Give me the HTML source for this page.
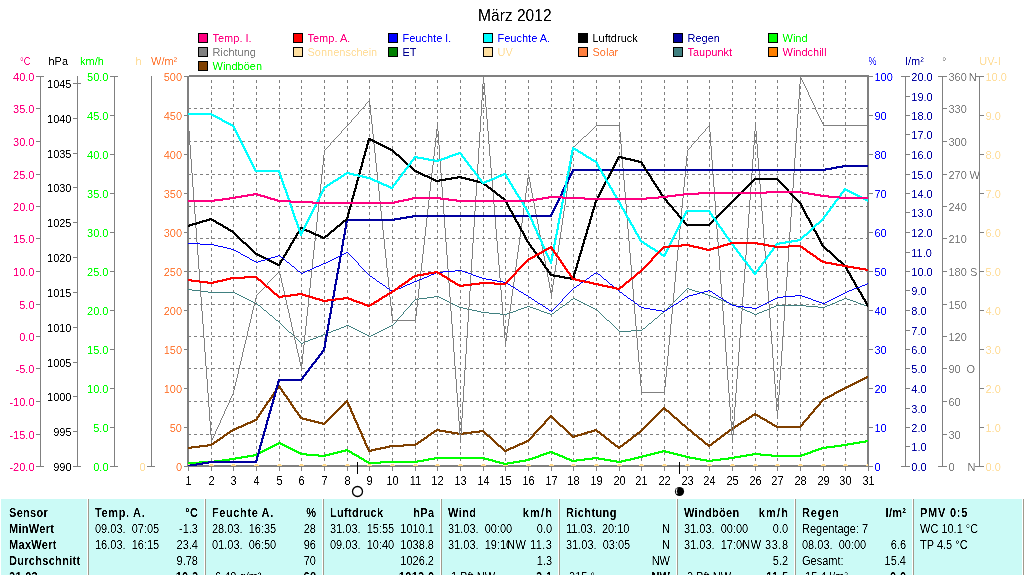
<!DOCTYPE html>
<html><head><meta charset="utf-8"><title>März 2012</title>
<style>
html,body{margin:0;padding:0;background:#fff}
body{width:1024px;height:575px;overflow:hidden;position:relative;font-family:"Liberation Sans",sans-serif;font-size:11px;color:#000}
.c{position:absolute;white-space:nowrap;line-height:13px;height:13px;font-size:11px;transform:scaleY(1.125);transform-origin:0 10.3px}
.s{position:absolute;top:499px;width:1px;height:76px}
</style></head><body>
<div id="wrap" style="position:absolute;left:0;top:0;width:1024px;height:575px;overflow:hidden;will-change:transform">
<svg width="1024" height="499" viewBox="0 0 1024 499" style="position:absolute;left:0;top:0" font-family="Liberation Sans, sans-serif" font-size="11">
<defs><filter id="sh" filterUnits="userSpaceOnUse" x="0" y="0" width="1024" height="575" color-interpolation-filters="sRGB"><feComponentTransfer><feFuncA type="table" tableValues="0 0 0.5 1 1"/></feComponentTransfer></filter></defs>
<g shape-rendering="crispEdges" stroke="none">
<rect x="198" y="33" width="10" height="10" fill="#000"/><rect x="199" y="34" width="8" height="8" fill="#ff0080"/>
<rect x="293" y="33" width="10" height="10" fill="#000"/><rect x="294" y="34" width="8" height="8" fill="#ff0000"/>
<rect x="388" y="33" width="10" height="10" fill="#000"/><rect x="389" y="34" width="8" height="8" fill="#0000ff"/>
<rect x="483" y="33" width="10" height="10" fill="#000"/><rect x="484" y="34" width="8" height="8" fill="#00ffff"/>
<rect x="578" y="33" width="10" height="10" fill="#000"/><rect x="579" y="34" width="8" height="8" fill="#000000"/>
<rect x="673" y="33" width="10" height="10" fill="#000"/><rect x="674" y="34" width="8" height="8" fill="#0000a0"/>
<rect x="768" y="33" width="10" height="10" fill="#000"/><rect x="769" y="34" width="8" height="8" fill="#00ff00"/>
<rect x="198" y="47" width="10" height="10" fill="#000"/><rect x="199" y="48" width="8" height="8" fill="#808080"/>
<rect x="293" y="47" width="10" height="10" fill="#000"/><rect x="294" y="48" width="8" height="8" fill="#ffe0a0"/>
<rect x="388" y="47" width="10" height="10" fill="#000"/><rect x="389" y="48" width="8" height="8" fill="#008000"/>
<rect x="483" y="47" width="10" height="10" fill="#000"/><rect x="484" y="48" width="8" height="8" fill="#ffe0a0"/>
<rect x="578" y="47" width="10" height="10" fill="#000"/><rect x="579" y="48" width="8" height="8" fill="#ff8040"/>
<rect x="673" y="47" width="10" height="10" fill="#000"/><rect x="674" y="48" width="8" height="8" fill="#408080"/>
<rect x="768" y="47" width="10" height="10" fill="#000"/><rect x="769" y="48" width="8" height="8" fill="#ff8000"/>
<rect x="198" y="61" width="10" height="10" fill="#000"/><rect x="199" y="62" width="8" height="8" fill="#804000"/>
<g fill="none" stroke="#808080" stroke-width="1" stroke-dasharray="3 3">
<path d="M211.5 80V465"/>
<path d="M233.5 80V465"/>
<path d="M256.5 80V465"/>
<path d="M279.5 80V465"/>
<path d="M301.5 80V465"/>
<path d="M324.5 80V465"/>
<path d="M347.5 80V465"/>
<path d="M369.5 80V465"/>
<path d="M392.5 80V465"/>
<path d="M415.5 80V465"/>
<path d="M437.5 80V465"/>
<path d="M460.5 80V465"/>
<path d="M483.5 80V465"/>
<path d="M505.5 80V465"/>
<path d="M528.5 80V465"/>
<path d="M551.5 80V465"/>
<path d="M573.5 80V465"/>
<path d="M596.5 80V465"/>
<path d="M619.5 80V465"/>
<path d="M641.5 80V465"/>
<path d="M664.5 80V465"/>
<path d="M687.5 80V465"/>
<path d="M709.5 80V465"/>
<path d="M732.5 80V465"/>
<path d="M755.5 80V465"/>
<path d="M777.5 80V465"/>
<path d="M800.5 80V465"/>
<path d="M823.5 80V465"/>
<path d="M845.5 80V465"/>
<path d="M188 108.5H867"/>
<path d="M188 141.5H867"/>
<path d="M188 174.5H867"/>
<path d="M188 206.5H867"/>
<path d="M188 238.5H867"/>
<path d="M188 271.5H867"/>
<path d="M188 304.5H867"/>
<path d="M188 336.5H867"/>
<path d="M188 368.5H867"/>
<path d="M188 401.5H867"/>
<path d="M188 434.5H867"/>
</g>
<g fill="#808080">
<rect x="187" y="465" width="682" height="2"/><rect x="189" y="75" width="680" height="2"/><rect x="187" y="76" width="2" height="391"/><rect x="867" y="75" width="2" height="392"/>
<rect x="188" y="467" width="1" height="4"/>
<rect x="211" y="467" width="1" height="4"/>
<rect x="233" y="467" width="1" height="4"/>
<rect x="256" y="467" width="1" height="4"/>
<rect x="279" y="467" width="1" height="4"/>
<rect x="301" y="467" width="1" height="4"/>
<rect x="324" y="467" width="1" height="4"/>
<rect x="347" y="467" width="1" height="4"/>
<rect x="369" y="467" width="1" height="4"/>
<rect x="392" y="467" width="1" height="4"/>
<rect x="415" y="467" width="1" height="4"/>
<rect x="437" y="467" width="1" height="4"/>
<rect x="460" y="467" width="1" height="4"/>
<rect x="483" y="467" width="1" height="4"/>
<rect x="505" y="467" width="1" height="4"/>
<rect x="528" y="467" width="1" height="4"/>
<rect x="551" y="467" width="1" height="4"/>
<rect x="573" y="467" width="1" height="4"/>
<rect x="596" y="467" width="1" height="4"/>
<rect x="619" y="467" width="1" height="4"/>
<rect x="641" y="467" width="1" height="4"/>
<rect x="664" y="467" width="1" height="4"/>
<rect x="687" y="467" width="1" height="4"/>
<rect x="709" y="467" width="1" height="4"/>
<rect x="732" y="467" width="1" height="4"/>
<rect x="755" y="467" width="1" height="4"/>
<rect x="777" y="467" width="1" height="4"/>
<rect x="800" y="467" width="1" height="4"/>
<rect x="823" y="467" width="1" height="4"/>
<rect x="845" y="467" width="1" height="4"/>
<rect x="868" y="467" width="1" height="4"/>
</g>
<path d="M866 376h2v1h-2zM864 377h4v1h-4zM862 378h5v1h-5zM860 379h5v1h-5zM858 380h5v1h-5zM856 381h5v1h-5zM854 382h5v1h-5zM852 383h5v1h-5zM850 384h5v1h-5zM278 385h2v1h-2zM848 385h5v1h-5zM846 386h5v1h-5zM277 386h4v2h-4zM844 387h5v1h-5zM276 388h6v1h-6zM842 388h5v1h-5zM275 389h3v1h-3zM280 389h3v1h-3zM840 389h5v1h-5zM275 390h2v1h-2zM281 390h2v1h-2zM838 390h5v1h-5zM274 391h3v1h-3zM281 391h3v1h-3zM836 391h5v1h-5zM273 392h3v1h-3zM282 392h3v1h-3zM834 392h5v1h-5zM273 393h2v1h-2zM283 393h2v1h-2zM833 393h4v1h-4zM272 394h3v1h-3zM283 394h3v1h-3zM831 394h4v1h-4zM271 395h3v1h-3zM284 395h3v1h-3zM829 395h5v1h-5zM271 396h2v1h-2zM285 396h3v1h-3zM827 396h5v1h-5zM270 397h3v1h-3zM286 397h2v1h-2zM825 397h5v1h-5zM269 398h3v1h-3zM286 398h3v1h-3zM823 398h5v1h-5zM269 399h2v1h-2zM287 399h3v1h-3zM822 399h4v1h-4zM268 400h3v1h-3zM288 400h2v1h-2zM346 400h2v1h-2zM821 400h3v1h-3zM267 401h3v1h-3zM288 401h3v1h-3zM345 401h3v1h-3zM820 401h3v1h-3zM266 402h3v1h-3zM289 402h3v1h-3zM344 402h5v1h-5zM819 402h3v1h-3zM266 403h2v1h-2zM290 403h2v1h-2zM343 403h3v1h-3zM347 403h2v1h-2zM819 403h2v1h-2zM265 404h3v1h-3zM290 404h3v1h-3zM342 404h3v1h-3zM347 404h3v1h-3zM818 404h3v1h-3zM264 405h3v1h-3zM291 405h3v1h-3zM341 405h3v1h-3zM348 405h2v1h-2zM817 405h3v1h-3zM264 406h2v1h-2zM292 406h2v1h-2zM340 406h3v1h-3zM348 406h3v1h-3zM816 406h3v1h-3zM263 407h3v1h-3zM292 407h3v1h-3zM339 407h3v1h-3zM349 407h2v1h-2zM663 407h2v1h-2zM815 407h3v1h-3zM262 408h3v1h-3zM293 408h3v1h-3zM338 408h3v1h-3zM349 408h3v1h-3zM662 408h4v1h-4zM814 408h3v1h-3zM262 409h2v1h-2zM294 409h2v1h-2zM337 409h3v1h-3zM661 409h6v1h-6zM813 409h3v1h-3zM261 410h3v1h-3zM294 410h3v1h-3zM336 410h3v1h-3zM350 409h2v2h-2zM660 410h3v1h-3zM665 410h4v1h-4zM813 410h2v1h-2zM260 411h3v1h-3zM295 411h3v1h-3zM335 411h3v1h-3zM350 411h3v1h-3zM659 411h3v1h-3zM666 411h4v1h-4zM812 411h3v1h-3zM260 412h2v1h-2zM296 412h3v1h-3zM334 412h3v1h-3zM351 412h2v1h-2zM658 412h3v1h-3zM668 412h3v1h-3zM811 412h3v1h-3zM259 413h3v1h-3zM297 413h2v1h-2zM333 413h3v1h-3zM351 413h3v1h-3zM657 413h3v1h-3zM669 413h3v1h-3zM754 413h2v1h-2zM810 413h3v1h-3zM258 414h3v1h-3zM297 414h3v1h-3zM332 414h3v1h-3zM352 414h2v1h-2zM656 414h3v1h-3zM670 414h3v1h-3zM752 414h6v1h-6zM809 414h3v1h-3zM258 415h2v1h-2zM298 415h3v1h-3zM331 415h3v1h-3zM352 415h3v1h-3zM550 415h2v1h-2zM655 415h3v1h-3zM671 415h3v1h-3zM751 415h9v1h-9zM808 415h3v1h-3zM257 416h3v1h-3zM299 416h2v1h-2zM330 416h3v1h-3zM549 416h4v1h-4zM654 416h3v1h-3zM672 416h3v1h-3zM749 416h4v1h-4zM757 416h4v1h-4zM808 416h2v1h-2zM256 417h3v1h-3zM299 417h4v1h-4zM329 417h3v1h-3zM353 416h2v2h-2zM548 417h6v1h-6zM653 417h3v1h-3zM673 417h4v1h-4zM748 417h4v1h-4zM759 417h4v1h-4zM807 417h3v1h-3zM256 418h2v1h-2zM300 418h7v1h-7zM328 418h3v1h-3zM353 418h3v1h-3zM547 418h3v1h-3zM552 418h3v1h-3zM652 418h3v1h-3zM674 418h4v1h-4zM746 418h4v1h-4zM760 418h5v1h-5zM806 418h3v1h-3zM254 419h4v1h-4zM302 419h9v1h-9zM327 419h3v1h-3zM354 419h2v1h-2zM546 419h3v1h-3zM553 419h3v1h-3zM651 419h3v1h-3zM676 419h3v1h-3zM745 419h4v1h-4zM762 419h5v1h-5zM805 419h3v1h-3zM252 420h5v1h-5zM306 420h9v1h-9zM326 420h3v1h-3zM354 420h3v1h-3zM545 420h3v1h-3zM554 420h3v1h-3zM650 420h3v1h-3zM677 420h3v1h-3zM743 420h4v1h-4zM764 420h4v1h-4zM804 420h3v1h-3zM250 421h5v1h-5zM310 421h9v1h-9zM325 421h3v1h-3zM355 421h2v1h-2zM544 421h3v1h-3zM555 421h3v1h-3zM649 421h3v1h-3zM678 421h3v1h-3zM741 421h5v1h-5zM766 421h4v1h-4zM803 421h3v1h-3zM247 422h6v1h-6zM314 422h9v1h-9zM324 422h3v1h-3zM355 422h3v1h-3zM544 422h2v1h-2zM556 422h3v1h-3zM648 422h3v1h-3zM679 422h3v1h-3zM740 422h4v1h-4zM767 422h5v1h-5zM802 422h3v1h-3zM245 423h6v1h-6zM318 423h8v1h-8zM356 423h2v1h-2zM543 423h3v1h-3zM557 423h3v1h-3zM647 423h3v1h-3zM680 423h3v1h-3zM738 423h4v1h-4zM769 423h4v1h-4zM802 423h2v1h-2zM243 424h5v1h-5zM322 424h3v1h-3zM356 424h3v1h-3zM542 424h3v1h-3zM558 424h3v1h-3zM646 424h3v1h-3zM681 424h4v1h-4zM737 424h4v1h-4zM771 424h4v1h-4zM801 424h3v1h-3zM241 425h5v1h-5zM541 425h3v1h-3zM559 425h4v1h-4zM645 425h3v1h-3zM682 425h4v1h-4zM735 425h4v1h-4zM772 425h5v1h-5zM800 425h3v1h-3zM238 426h6v1h-6zM357 425h2v2h-2zM540 426h3v1h-3zM560 426h4v1h-4zM644 426h3v1h-3zM684 426h3v1h-3zM734 426h4v1h-4zM774 426h28v1h-28zM236 427h6v1h-6zM357 427h3v1h-3zM539 427h3v1h-3zM562 427h3v1h-3zM643 427h3v1h-3zM685 427h3v1h-3zM732 427h4v1h-4zM776 427h25v1h-25zM234 428h5v1h-5zM358 428h2v1h-2zM538 428h3v1h-3zM563 428h3v1h-3zM642 428h3v1h-3zM686 428h3v1h-3zM731 428h4v1h-4zM232 429h5v1h-5zM358 429h3v1h-3zM436 429h4v1h-4zM537 429h3v1h-3zM564 429h3v1h-3zM594 429h3v1h-3zM641 429h3v1h-3zM687 429h4v1h-4zM729 429h4v1h-4zM230 430h5v1h-5zM359 430h2v1h-2zM434 430h12v1h-12zM479 430h5v1h-5zM536 430h3v1h-3zM565 430h3v1h-3zM591 430h7v1h-7zM640 430h3v1h-3zM688 430h4v1h-4zM728 430h4v1h-4zM229 431h4v1h-4zM359 431h3v1h-3zM433 431h4v1h-4zM439 431h13v1h-13zM471 431h14v1h-14zM535 431h3v1h-3zM566 431h3v1h-3zM587 431h8v1h-8zM596 431h4v1h-4zM639 431h3v1h-3zM690 431h3v1h-3zM727 431h3v1h-3zM227 432h4v1h-4zM360 432h2v1h-2zM431 432h4v1h-4zM445 432h13v1h-13zM463 432h17v1h-17zM483 432h3v1h-3zM534 432h3v1h-3zM567 432h3v1h-3zM584 432h8v1h-8zM597 432h4v1h-4zM637 432h4v1h-4zM691 432h3v1h-3zM725 432h4v1h-4zM226 433h4v1h-4zM360 433h3v1h-3zM430 433h4v1h-4zM451 433h21v1h-21zM484 433h3v1h-3zM533 433h3v1h-3zM568 433h3v1h-3zM581 433h7v1h-7zM599 433h3v1h-3zM636 433h4v1h-4zM692 433h3v1h-3zM724 433h4v1h-4zM224 434h4v1h-4zM428 434h4v1h-4zM457 434h7v1h-7zM485 434h3v1h-3zM533 434h2v1h-2zM569 434h3v1h-3zM577 434h8v1h-8zM600 434h4v1h-4zM635 434h3v1h-3zM693 434h4v1h-4zM723 434h3v1h-3zM223 435h4v1h-4zM361 434h2v2h-2zM427 435h4v1h-4zM486 435h4v1h-4zM532 435h3v1h-3zM570 435h3v1h-3zM574 435h8v1h-8zM601 435h4v1h-4zM633 435h4v1h-4zM694 435h4v1h-4zM721 435h4v1h-4zM222 436h3v1h-3zM361 436h3v1h-3zM426 436h3v1h-3zM487 436h4v1h-4zM531 436h3v1h-3zM571 436h7v1h-7zM603 436h3v1h-3zM632 436h4v1h-4zM696 436h3v1h-3zM720 436h4v1h-4zM220 437h4v1h-4zM362 437h2v1h-2zM424 437h4v1h-4zM489 437h3v1h-3zM530 437h3v1h-3zM572 437h3v1h-3zM604 437h3v1h-3zM631 437h3v1h-3zM697 437h3v1h-3zM719 437h3v1h-3zM219 438h4v1h-4zM362 438h3v1h-3zM423 438h4v1h-4zM490 438h3v1h-3zM529 438h3v1h-3zM605 438h4v1h-4zM630 438h3v1h-3zM698 438h4v1h-4zM717 438h4v1h-4zM217 439h4v1h-4zM363 439h2v1h-2zM421 439h4v1h-4zM491 439h3v1h-3zM528 439h3v1h-3zM606 439h4v1h-4zM628 439h4v1h-4zM699 439h4v1h-4zM716 439h4v1h-4zM216 440h4v1h-4zM363 440h3v1h-3zM420 440h4v1h-4zM492 440h3v1h-3zM526 440h4v1h-4zM608 440h3v1h-3zM627 440h4v1h-4zM701 440h3v1h-3zM715 440h3v1h-3zM214 441h4v1h-4zM418 441h4v1h-4zM493 441h3v1h-3zM524 441h5v1h-5zM609 441h3v1h-3zM626 441h3v1h-3zM702 441h3v1h-3zM713 441h4v1h-4zM213 442h4v1h-4zM364 441h2v2h-2zM417 442h4v1h-4zM494 442h3v1h-3zM522 442h5v1h-5zM610 442h4v1h-4zM624 442h4v1h-4zM703 442h3v1h-3zM712 442h4v1h-4zM211 443h4v1h-4zM364 443h3v1h-3zM415 443h4v1h-4zM495 443h3v1h-3zM519 443h6v1h-6zM611 443h4v1h-4zM623 443h4v1h-4zM704 443h4v1h-4zM711 443h3v1h-3zM207 444h7v1h-7zM365 444h2v1h-2zM403 444h15v1h-15zM496 444h3v1h-3zM517 444h6v1h-6zM613 444h3v1h-3zM622 444h3v1h-3zM705 444h8v1h-8zM199 445h13v1h-13zM365 445h3v1h-3zM389 445h27v1h-27zM497 445h4v1h-4zM515 445h5v1h-5zM614 445h4v1h-4zM620 445h4v1h-4zM707 445h5v1h-5zM191 446h17v1h-17zM366 446h2v1h-2zM385 446h19v1h-19zM498 446h4v1h-4zM513 446h5v1h-5zM615 446h8v1h-8zM708 446h2v1h-2zM188 447h12v1h-12zM366 447h3v1h-3zM380 447h10v1h-10zM500 447h3v1h-3zM510 447h6v1h-6zM617 447h4v1h-4zM188 448h4v1h-4zM367 448h2v1h-2zM375 448h11v1h-11zM501 448h3v1h-3zM508 448h6v1h-6zM618 448h2v1h-2zM367 449h3v1h-3zM371 449h10v1h-10zM502 449h3v1h-3zM506 449h5v1h-5zM368 450h8v1h-8zM503 450h6v1h-6zM368 451h4v1h-4zM504 451h3v1h-3z" fill="#804000"/>
<path d="M687 288h2v1h-2zM188 289h4v1h-4zM686 289h1v1h-1zM689 289h3v1h-3zM192 290h8v1h-8zM685 290h1v1h-1zM692 290h3v1h-3zM200 291h8v1h-8zM684 291h1v1h-1zM695 291h4v1h-4zM208 292h27v1h-27zM683 292h1v1h-1zM699 292h3v1h-3zM235 293h2v1h-2zM682 293h1v1h-1zM702 293h3v1h-3zM237 294h2v1h-2zM681 294h1v1h-1zM705 294h3v1h-3zM239 295h2v1h-2zM680 295h1v1h-1zM708 295h3v1h-3zM241 296h2v1h-2zM434 296h5v1h-5zM679 296h1v1h-1zM711 296h2v1h-2zM243 297h2v1h-2zM427 297h7v1h-7zM439 297h2v1h-2zM678 297h1v1h-1zM713 297h3v1h-3zM245 298h2v1h-2zM419 298h8v1h-8zM441 298h2v1h-2zM573 298h2v1h-2zM677 298h1v1h-1zM716 298h2v1h-2zM844 298h3v1h-3zM247 299h2v1h-2zM415 299h4v1h-4zM443 299h2v1h-2zM571 299h2v1h-2zM575 299h2v1h-2zM676 299h1v1h-1zM718 299h3v1h-3zM842 299h2v1h-2zM847 299h3v1h-3zM249 300h2v1h-2zM414 300h1v1h-1zM445 300h2v1h-2zM570 300h1v1h-1zM577 300h2v1h-2zM675 300h1v1h-1zM721 300h3v1h-3zM839 300h3v1h-3zM850 300h3v1h-3zM251 301h2v1h-2zM413 301h1v1h-1zM447 301h2v1h-2zM569 301h1v1h-1zM579 301h2v1h-2zM674 301h1v1h-1zM724 301h2v1h-2zM837 301h2v1h-2zM853 301h3v1h-3zM253 302h2v1h-2zM412 302h1v1h-1zM449 302h2v1h-2zM567 302h2v1h-2zM581 302h2v1h-2zM673 302h1v1h-1zM726 302h3v1h-3zM835 302h2v1h-2zM856 302h2v1h-2zM255 303h2v1h-2zM451 303h2v1h-2zM566 303h1v1h-1zM583 303h2v1h-2zM672 303h1v1h-1zM729 303h2v1h-2zM832 303h3v1h-3zM858 303h3v1h-3zM257 304h1v1h-1zM411 303h1v2h-1zM453 304h2v1h-2zM565 304h1v1h-1zM585 304h2v1h-2zM671 304h1v1h-1zM731 304h3v1h-3zM830 304h2v1h-2zM861 304h3v1h-3zM258 305h2v1h-2zM410 305h1v1h-1zM455 305h2v1h-2zM563 305h2v1h-2zM587 305h2v1h-2zM670 305h1v1h-1zM734 305h2v1h-2zM776 305h30v1h-30zM827 305h3v1h-3zM864 305h3v1h-3zM260 306h1v1h-1zM409 306h1v1h-1zM457 306h2v1h-2zM527 306h3v1h-3zM562 306h1v1h-1zM589 306h2v1h-2zM669 306h1v1h-1zM736 306h2v1h-2zM774 306h2v1h-2zM806 306h12v1h-12zM825 306h2v1h-2zM867 306h1v1h-1zM261 307h1v1h-1zM408 307h1v1h-1zM459 307h4v1h-4zM524 307h3v1h-3zM530 307h3v1h-3zM560 307h2v1h-2zM591 307h2v1h-2zM668 307h1v1h-1zM738 307h3v1h-3zM771 307h3v1h-3zM818 307h7v1h-7zM262 308h1v1h-1zM407 308h1v1h-1zM463 308h4v1h-4zM521 308h3v1h-3zM533 308h3v1h-3zM559 308h1v1h-1zM593 308h2v1h-2zM667 308h1v1h-1zM741 308h2v1h-2zM769 308h2v1h-2zM263 309h1v1h-1zM406 309h1v1h-1zM467 309h5v1h-5zM518 309h3v1h-3zM536 309h3v1h-3zM558 309h1v1h-1zM595 309h2v1h-2zM666 309h1v1h-1zM743 309h2v1h-2zM767 309h2v1h-2zM264 310h2v1h-2zM405 310h1v1h-1zM472 310h5v1h-5zM516 310h2v1h-2zM539 310h2v1h-2zM556 310h2v1h-2zM597 310h1v1h-1zM665 310h1v1h-1zM745 310h2v1h-2zM764 310h3v1h-3zM266 311h1v1h-1zM404 311h1v1h-1zM477 311h4v1h-4zM513 311h3v1h-3zM541 311h3v1h-3zM555 311h1v1h-1zM598 311h1v1h-1zM664 311h1v1h-1zM747 311h3v1h-3zM762 311h2v1h-2zM267 312h1v1h-1zM481 312h8v1h-8zM510 312h3v1h-3zM544 312h3v1h-3zM554 312h1v1h-1zM599 312h1v1h-1zM663 312h1v1h-1zM750 312h2v1h-2zM759 312h3v1h-3zM268 313h1v1h-1zM403 312h1v2h-1zM489 313h11v1h-11zM507 313h3v1h-3zM547 313h3v1h-3zM552 313h2v1h-2zM600 313h1v1h-1zM661 313h2v1h-2zM752 313h2v1h-2zM757 313h2v1h-2zM269 314h1v1h-1zM402 314h1v1h-1zM500 314h7v1h-7zM550 314h2v1h-2zM601 314h1v1h-1zM660 314h1v1h-1zM754 314h3v1h-3zM270 315h2v1h-2zM401 315h1v1h-1zM602 315h1v1h-1zM659 315h1v1h-1zM272 316h1v1h-1zM400 316h1v1h-1zM603 316h1v1h-1zM658 316h1v1h-1zM273 317h1v1h-1zM399 317h1v1h-1zM604 317h1v1h-1zM657 317h1v1h-1zM274 318h1v1h-1zM398 318h1v1h-1zM605 318h1v1h-1zM655 318h2v1h-2zM275 319h1v1h-1zM397 319h1v1h-1zM606 319h1v1h-1zM654 319h1v1h-1zM276 320h2v1h-2zM607 320h2v1h-2zM653 320h1v1h-1zM278 321h1v1h-1zM396 320h1v2h-1zM609 321h1v1h-1zM652 321h1v1h-1zM279 322h1v1h-1zM395 322h1v1h-1zM610 322h1v1h-1zM651 322h1v1h-1zM280 323h1v1h-1zM394 323h1v1h-1zM611 323h1v1h-1zM649 323h2v1h-2zM281 324h1v1h-1zM393 324h1v1h-1zM612 324h1v1h-1zM648 324h1v1h-1zM282 325h1v1h-1zM346 325h3v1h-3zM391 325h2v1h-2zM613 325h1v1h-1zM647 325h1v1h-1zM283 326h1v1h-1zM344 326h2v1h-2zM349 326h2v1h-2zM389 326h2v1h-2zM614 326h1v1h-1zM646 326h1v1h-1zM284 327h1v1h-1zM341 327h3v1h-3zM351 327h2v1h-2zM387 327h2v1h-2zM615 327h1v1h-1zM645 327h1v1h-1zM285 328h1v1h-1zM339 328h2v1h-2zM353 328h2v1h-2zM385 328h2v1h-2zM616 328h1v1h-1zM643 328h2v1h-2zM286 329h1v1h-1zM336 329h3v1h-3zM355 329h2v1h-2zM383 329h2v1h-2zM617 329h1v1h-1zM642 329h1v1h-1zM287 330h1v1h-1zM333 330h3v1h-3zM357 330h2v1h-2zM381 330h2v1h-2zM618 330h1v1h-1zM631 330h11v1h-11zM288 331h1v1h-1zM331 331h2v1h-2zM359 331h2v1h-2zM379 331h2v1h-2zM619 331h12v1h-12zM289 332h2v1h-2zM328 332h3v1h-3zM361 332h2v1h-2zM377 332h2v1h-2zM291 333h1v1h-1zM326 333h2v1h-2zM363 333h2v1h-2zM375 333h2v1h-2zM292 334h1v1h-1zM323 334h3v1h-3zM365 334h2v1h-2zM373 334h2v1h-2zM293 335h1v1h-1zM321 335h2v1h-2zM367 335h2v1h-2zM371 335h2v1h-2zM294 336h1v1h-1zM318 336h3v1h-3zM369 336h2v1h-2zM295 337h1v1h-1zM316 337h2v1h-2zM296 338h1v1h-1zM313 338h3v1h-3zM297 339h1v1h-1zM310 339h3v1h-3zM298 340h1v1h-1zM308 340h2v1h-2zM299 341h1v1h-1zM305 341h3v1h-3zM300 342h1v1h-1zM303 342h2v1h-2zM301 343h2v1h-2z" fill="#408080"/>
<g fill="#ffd88a">
<rect x="188" y="464" width="2" height="1"/><rect x="188" y="465" width="3" height="1"/>
<rect x="210" y="464" width="3" height="1"/><rect x="209" y="465" width="5" height="1"/>
<rect x="232" y="464" width="3" height="1"/><rect x="231" y="465" width="5" height="1"/>
<rect x="255" y="464" width="3" height="1"/><rect x="254" y="465" width="5" height="1"/>
<rect x="278" y="464" width="3" height="1"/><rect x="277" y="465" width="5" height="1"/>
<rect x="300" y="464" width="3" height="1"/><rect x="299" y="465" width="5" height="1"/>
<rect x="323" y="464" width="3" height="1"/><rect x="322" y="465" width="5" height="1"/>
<rect x="346" y="464" width="3" height="1"/><rect x="345" y="465" width="5" height="1"/>
<rect x="368" y="464" width="3" height="1"/><rect x="367" y="465" width="5" height="1"/>
<rect x="391" y="464" width="3" height="1"/><rect x="390" y="465" width="5" height="1"/>
<rect x="414" y="464" width="3" height="1"/><rect x="413" y="465" width="5" height="1"/>
<rect x="436" y="464" width="3" height="1"/><rect x="435" y="465" width="5" height="1"/>
<rect x="459" y="464" width="3" height="1"/><rect x="458" y="465" width="5" height="1"/>
<rect x="482" y="464" width="3" height="1"/><rect x="481" y="465" width="5" height="1"/>
<rect x="504" y="464" width="3" height="1"/><rect x="503" y="465" width="5" height="1"/>
<rect x="527" y="464" width="3" height="1"/><rect x="526" y="465" width="5" height="1"/>
<rect x="550" y="464" width="3" height="1"/><rect x="549" y="465" width="5" height="1"/>
<rect x="572" y="464" width="3" height="1"/><rect x="571" y="465" width="5" height="1"/>
<rect x="595" y="464" width="3" height="1"/><rect x="594" y="465" width="5" height="1"/>
<rect x="618" y="464" width="3" height="1"/><rect x="617" y="465" width="5" height="1"/>
<rect x="640" y="464" width="3" height="1"/><rect x="639" y="465" width="5" height="1"/>
<rect x="663" y="464" width="3" height="1"/><rect x="662" y="465" width="5" height="1"/>
<rect x="686" y="464" width="3" height="1"/><rect x="685" y="465" width="5" height="1"/>
<rect x="708" y="464" width="3" height="1"/><rect x="707" y="465" width="5" height="1"/>
<rect x="731" y="464" width="3" height="1"/><rect x="730" y="465" width="5" height="1"/>
<rect x="754" y="464" width="3" height="1"/><rect x="753" y="465" width="5" height="1"/>
<rect x="776" y="464" width="3" height="1"/><rect x="775" y="465" width="5" height="1"/>
<rect x="799" y="464" width="3" height="1"/><rect x="798" y="465" width="5" height="1"/>
<rect x="822" y="464" width="3" height="1"/><rect x="821" y="465" width="5" height="1"/>
<rect x="844" y="464" width="3" height="1"/><rect x="843" y="465" width="5" height="1"/>
<rect x="867" y="464" width="1" height="1"/><rect x="866" y="465" width="2" height="1"/>
</g>
<path d="M800 76h1v2h-1zM800 78h2v2h-2zM802 80h1v2h-1zM483 76h1v7h-1zM483 83h2v1h-2zM800 80h1v4h-1zM803 82h1v2h-1zM804 84h1v2h-1zM805 86h1v2h-1zM806 88h1v2h-1zM807 90h1v2h-1zM484 84h1v11h-1zM808 92h1v3h-1zM809 95h1v2h-1zM799 84h1v15h-1zM810 97h1v2h-1zM482 84h1v16h-1zM369 100h1v1h-1zM811 99h1v2h-1zM368 101h2v1h-2zM367 102h1v1h-1zM812 101h1v2h-1zM366 103h1v1h-1zM369 102h1v3h-1zM813 103h1v2h-1zM365 104h1v2h-1zM364 106h1v1h-1zM485 95h1v12h-1zM814 105h1v2h-1zM363 107h1v1h-1zM362 108h1v1h-1zM361 109h1v1h-1zM815 107h1v3h-1zM360 110h1v1h-1zM359 111h1v1h-1zM816 110h1v2h-1zM358 112h1v2h-1zM798 99h1v15h-1zM817 112h1v2h-1zM357 114h1v1h-1zM370 105h1v10h-1zM356 115h1v1h-1zM481 100h1v16h-1zM818 114h1v2h-1zM355 116h1v1h-1zM354 117h1v1h-1zM819 116h1v2h-1zM353 118h1v1h-1zM486 107h1v12h-1zM352 119h1v1h-1zM820 118h1v2h-1zM351 120h1v2h-1zM821 120h1v2h-1zM350 122h1v1h-1zM349 123h1v1h-1zM371 115h1v9h-1zM822 122h1v2h-1zM348 124h1v1h-1zM823 124h1v1h-1zM347 125h1v1h-1zM596 125h24v1h-24zM709 125h1v1h-1zM823 125h45v1h-45zM346 126h1v1h-1zM595 126h1v1h-1zM708 126h2v1h-2zM345 127h1v1h-1zM594 127h1v1h-1zM707 127h1v1h-1zM797 114h1v14h-1zM344 128h1v1h-1zM437 124h1v5h-1zM593 128h1v1h-1zM706 128h1v1h-1zM343 129h1v1h-1zM592 129h1v1h-1zM188 124h1v7h-1zM342 130h1v1h-1zM436 129h2v2h-2zM487 119h1v12h-1zM591 130h1v1h-1zM705 129h1v2h-1zM755 124h1v7h-1zM480 116h1v16h-1zM590 131h1v1h-1zM619 126h1v6h-1zM704 131h1v1h-1zM709 127h1v5h-1zM341 131h1v2h-1zM589 132h1v1h-1zM703 132h1v1h-1zM340 133h1v1h-1zM372 124h1v10h-1zM588 133h1v1h-1zM702 133h1v1h-1zM339 134h1v1h-1zM587 134h1v1h-1zM701 134h1v1h-1zM338 135h1v1h-1zM586 135h1v1h-1zM700 135h1v1h-1zM337 136h1v1h-1zM584 136h2v1h-2zM699 136h1v1h-1zM336 137h1v1h-1zM436 131h1v7h-1zM583 137h1v1h-1zM335 138h1v1h-1zM582 138h1v1h-1zM698 137h1v2h-1zM334 139h1v1h-1zM581 139h1v1h-1zM697 139h1v1h-1zM333 140h1v1h-1zM580 140h1v1h-1zM696 140h1v1h-1zM332 141h1v1h-1zM579 141h1v1h-1zM695 141h1v1h-1zM331 142h1v1h-1zM578 142h1v1h-1zM694 142h1v1h-1zM796 128h1v15h-1zM373 134h1v10h-1zM488 131h1v13h-1zM577 143h1v1h-1zM620 132h1v12h-1zM693 143h1v1h-1zM756 131h1v13h-1zM189 131h1v14h-1zM330 143h1v2h-1zM438 131h1v14h-1zM576 144h1v1h-1zM692 144h1v1h-1zM754 131h1v14h-1zM329 145h1v1h-1zM575 145h1v1h-1zM710 132h1v14h-1zM328 146h1v1h-1zM435 138h1v9h-1zM574 146h1v1h-1zM691 145h1v2h-1zM327 147h1v1h-1zM479 132h1v16h-1zM690 147h1v1h-1zM326 148h1v1h-1zM689 148h1v1h-1zM325 149h1v1h-1zM688 149h1v1h-1zM573 147h1v4h-1zM374 144h1v9h-1zM324 150h1v5h-1zM434 147h1v9h-1zM489 144h1v12h-1zM621 144h1v12h-1zM687 150h1v6h-1zM572 151h1v7h-1zM757 144h1v14h-1zM795 143h1v15h-1zM190 145h1v14h-1zM439 145h1v14h-1zM753 145h1v14h-1zM711 146h1v14h-1zM375 153h1v10h-1zM478 148h1v16h-1zM571 158h1v6h-1zM323 155h1v10h-1zM433 156h1v9h-1zM686 156h1v10h-1zM490 156h1v12h-1zM622 156h1v12h-1zM570 164h1v7h-1zM758 158h1v13h-1zM376 163h1v9h-1zM191 159h1v14h-1zM432 165h1v8h-1zM440 159h1v14h-1zM752 159h1v14h-1zM794 158h1v15h-1zM322 165h1v9h-1zM712 160h1v14h-1zM528 174h1v3h-1zM685 166h1v11h-1zM528 177h2v1h-2zM569 171h1v7h-1zM477 164h1v16h-1zM491 168h1v12h-1zM623 168h1v12h-1zM377 172h1v10h-1zM431 173h1v9h-1zM529 178h1v4h-1zM321 174h1v10h-1zM568 178h1v6h-1zM759 171h1v13h-1zM527 178h1v8h-1zM192 173h1v14h-1zM441 173h1v14h-1zM684 177h1v10h-1zM713 174h1v13h-1zM751 173h1v14h-1zM530 182h1v6h-1zM793 173h1v15h-1zM378 182h1v9h-1zM430 182h1v9h-1zM567 184h1v7h-1zM492 180h1v12h-1zM624 180h1v12h-1zM320 184h1v9h-1zM526 186h1v7h-1zM531 188h1v5h-1zM476 180h1v16h-1zM532 193h1v5h-1zM566 191h1v7h-1zM683 187h1v11h-1zM760 184h1v14h-1zM193 187h1v13h-1zM429 191h1v9h-1zM442 187h1v13h-1zM525 193h1v7h-1zM750 187h1v13h-1zM379 191h1v10h-1zM714 187h1v14h-1zM319 193h1v10h-1zM533 198h1v5h-1zM792 188h1v15h-1zM493 192h1v12h-1zM625 192h1v12h-1zM565 198h1v7h-1zM524 200h1v8h-1zM682 198h1v10h-1zM428 200h1v9h-1zM534 203h1v6h-1zM380 201h1v10h-1zM475 196h1v15h-1zM564 205h1v6h-1zM761 198h1v13h-1zM318 203h1v9h-1zM194 200h1v14h-1zM443 200h1v14h-1zM535 209h1v5h-1zM749 200h1v14h-1zM523 208h1v7h-1zM715 201h1v14h-1zM494 204h1v13h-1zM626 204h1v13h-1zM791 203h1v14h-1zM427 209h1v9h-1zM563 211h1v7h-1zM536 214h1v5h-1zM681 208h1v11h-1zM381 211h1v9h-1zM317 212h1v10h-1zM522 215h1v8h-1zM537 219h1v5h-1zM762 211h1v13h-1zM562 218h1v7h-1zM426 218h1v9h-1zM474 211h1v16h-1zM195 214h1v14h-1zM444 214h1v14h-1zM748 214h1v14h-1zM495 217h1v12h-1zM627 217h1v12h-1zM680 219h1v10h-1zM716 215h1v14h-1zM382 220h1v10h-1zM521 223h1v7h-1zM538 224h1v6h-1zM316 222h1v9h-1zM561 225h1v7h-1zM790 217h1v15h-1zM539 230h1v5h-1zM425 227h1v9h-1zM520 230h1v7h-1zM560 232h1v6h-1zM763 224h1v14h-1zM383 230h1v9h-1zM540 235h1v5h-1zM679 229h1v11h-1zM315 231h1v10h-1zM496 229h1v12h-1zM628 229h1v12h-1zM196 228h1v14h-1zM445 228h1v14h-1zM717 229h1v13h-1zM747 228h1v14h-1zM473 227h1v16h-1zM424 236h1v9h-1zM519 237h1v8h-1zM559 238h1v7h-1zM541 240h1v6h-1zM789 232h1v15h-1zM384 239h1v10h-1zM314 241h1v9h-1zM678 240h1v10h-1zM542 246h1v5h-1zM764 238h1v13h-1zM518 245h1v7h-1zM558 245h1v7h-1zM497 241h1v12h-1zM629 241h1v12h-1zM423 245h1v9h-1zM197 242h1v13h-1zM446 242h1v13h-1zM746 242h1v13h-1zM543 251h1v5h-1zM718 242h1v14h-1zM385 249h1v9h-1zM557 252h1v6h-1zM313 250h1v9h-1zM472 243h1v16h-1zM517 252h1v7h-1zM544 256h1v5h-1zM677 250h1v11h-1zM788 247h1v15h-1zM422 254h1v9h-1zM765 251h1v13h-1zM498 253h1v12h-1zM556 258h1v7h-1zM630 253h1v12h-1zM516 259h1v8h-1zM545 261h1v6h-1zM386 258h1v10h-1zM198 255h1v14h-1zM312 259h1v10h-1zM447 255h1v14h-1zM745 255h1v14h-1zM719 256h1v14h-1zM421 263h1v8h-1zM676 261h1v10h-1zM279 271h1v1h-1zM546 267h1v5h-1zM555 265h1v7h-1zM278 272h2v1h-2zM277 273h1v1h-1zM279 273h1v1h-1zM515 267h1v7h-1zM276 274h1v1h-1zM471 259h1v16h-1zM275 275h1v1h-1zM274 276h1v1h-1zM387 268h1v9h-1zM547 272h1v5h-1zM631 265h1v12h-1zM787 262h1v15h-1zM273 277h1v1h-1zM280 274h1v4h-1zM311 269h1v9h-1zM499 265h1v13h-1zM766 264h1v14h-1zM272 278h1v1h-1zM554 272h1v7h-1zM271 279h1v1h-1zM420 271h1v9h-1zM270 280h1v1h-1zM269 281h1v1h-1zM514 274h1v8h-1zM548 277h1v5h-1zM675 271h1v11h-1zM199 269h1v14h-1zM268 282h1v1h-1zM281 278h1v5h-1zM448 269h1v14h-1zM744 269h1v14h-1zM720 270h1v14h-1zM267 283h1v2h-1zM553 279h1v6h-1zM266 285h1v1h-1zM265 286h1v1h-1zM282 283h1v4h-1zM388 277h1v10h-1zM264 287h1v1h-1zM310 278h1v10h-1zM549 282h1v6h-1zM263 288h1v1h-1zM419 280h1v9h-1zM513 282h1v7h-1zM632 277h1v12h-1zM262 289h1v1h-1zM500 278h1v12h-1zM261 290h1v1h-1zM283 287h1v4h-1zM470 275h1v16h-1zM767 278h1v13h-1zM786 277h1v14h-1zM260 291h1v1h-1zM550 288h1v4h-1zM552 285h1v7h-1zM259 292h1v1h-1zM550 292h2v1h-2zM674 282h1v11h-1zM258 293h1v1h-1zM257 294h1v1h-1zM284 291h1v5h-1zM512 289h1v7h-1zM551 293h1v3h-1zM200 283h1v14h-1zM309 288h1v9h-1zM389 287h1v10h-1zM449 283h1v14h-1zM721 284h1v13h-1zM743 283h1v14h-1zM256 295h1v3h-1zM418 289h1v9h-1zM285 296h1v4h-1zM633 289h1v12h-1zM255 298h1v4h-1zM501 290h1v12h-1zM673 293h1v10h-1zM511 296h1v8h-1zM768 291h1v13h-1zM286 300h1v5h-1zM254 302h1v4h-1zM390 297h1v9h-1zM785 291h1v15h-1zM308 297h1v10h-1zM417 298h1v9h-1zM469 291h1v16h-1zM287 305h1v4h-1zM253 306h1v4h-1zM201 297h1v14h-1zM450 297h1v14h-1zM510 304h1v7h-1zM722 297h1v14h-1zM742 297h1v14h-1zM288 309h1v4h-1zM252 310h1v4h-1zM502 302h1v12h-1zM634 301h1v13h-1zM672 303h1v11h-1zM307 307h1v9h-1zM391 306h1v10h-1zM416 307h1v9h-1zM289 313h1v5h-1zM769 304h1v14h-1zM251 314h1v5h-1zM509 311h1v8h-1zM392 316h1v4h-1zM415 316h1v4h-1zM392 320h24v1h-24zM784 306h1v15h-1zM290 318h1v4h-1zM468 307h1v15h-1zM250 319h1v4h-1zM202 311h1v13h-1zM451 311h1v13h-1zM671 314h1v10h-1zM741 311h1v13h-1zM723 311h1v14h-1zM306 316h1v10h-1zM503 314h1v12h-1zM508 319h1v7h-1zM635 314h1v12h-1zM249 323h1v4h-1zM291 322h1v5h-1zM248 327h1v4h-1zM292 327h1v4h-1zM770 318h1v13h-1zM507 326h1v7h-1zM293 331h1v4h-1zM305 326h1v9h-1zM670 324h1v11h-1zM247 331h1v5h-1zM783 321h1v15h-1zM203 324h1v14h-1zM452 324h1v14h-1zM467 322h1v16h-1zM504 326h1v12h-1zM506 333h1v5h-1zM636 326h1v12h-1zM724 325h1v13h-1zM740 324h1v14h-1zM246 336h1v4h-1zM294 335h1v5h-1zM505 338h2v3h-2zM245 340h1v4h-1zM295 340h1v4h-1zM771 331h1v13h-1zM304 335h1v10h-1zM505 341h1v4h-1zM669 335h1v10h-1zM244 344h1v4h-1zM296 344h1v5h-1zM637 338h1v12h-1zM782 336h1v15h-1zM204 338h1v14h-1zM243 348h1v4h-1zM453 338h1v14h-1zM725 338h1v14h-1zM739 338h1v14h-1zM297 349h1v4h-1zM303 345h1v9h-1zM466 338h1v16h-1zM668 345h1v11h-1zM242 352h1v5h-1zM298 353h1v4h-1zM772 344h1v14h-1zM241 357h1v4h-1zM299 357h1v5h-1zM638 350h1v12h-1zM300 362h1v2h-1zM302 354h1v10h-1zM240 361h1v4h-1zM205 352h1v14h-1zM300 364h2v2h-2zM454 352h1v14h-1zM667 356h1v10h-1zM726 352h1v14h-1zM738 352h1v14h-1zM781 351h1v15h-1zM239 365h1v4h-1zM301 366h1v3h-1zM465 354h1v16h-1zM773 358h1v13h-1zM238 369h1v5h-1zM639 362h1v12h-1zM666 366h1v11h-1zM237 374h1v4h-1zM206 366h1v13h-1zM455 366h1v13h-1zM737 366h1v13h-1zM727 366h1v14h-1zM780 366h1v14h-1zM236 378h1v4h-1zM774 371h1v13h-1zM235 382h1v4h-1zM464 370h1v16h-1zM640 374h1v12h-1zM665 377h1v10h-1zM234 386h1v4h-1zM641 386h1v6h-1zM664 387h1v5h-1zM207 379h1v14h-1zM456 379h1v14h-1zM641 392h24v1h-24zM728 380h1v13h-1zM736 379h1v14h-1zM233 390h1v4h-1zM779 380h1v15h-1zM232 394h1v2h-1zM231 396h1v2h-1zM775 384h1v14h-1zM230 398h1v2h-1zM463 386h1v16h-1zM229 400h1v3h-1zM228 403h1v2h-1zM208 393h1v14h-1zM227 405h1v2h-1zM457 393h1v14h-1zM729 393h1v14h-1zM735 393h1v14h-1zM226 407h1v2h-1zM776 398h1v12h-1zM778 395h1v15h-1zM225 409h1v2h-1zM776 410h2v1h-2zM224 411h1v3h-1zM223 414h1v2h-1zM222 416h1v2h-1zM462 402h1v16h-1zM777 411h1v7h-1zM221 418h1v2h-1zM209 407h1v14h-1zM458 407h1v14h-1zM730 407h1v14h-1zM734 407h1v14h-1zM220 420h1v3h-1zM219 423h1v2h-1zM218 425h1v2h-1zM217 427h1v2h-1zM216 429h1v2h-1zM215 431h1v3h-1zM459 421h1v13h-1zM461 418h1v16h-1zM210 421h1v14h-1zM459 434h2v1h-2zM731 421h1v14h-1zM733 421h1v14h-1zM214 434h1v2h-1zM211 435h1v3h-1zM213 436h1v2h-1zM211 438h2v2h-2zM211 440h1v2h-1zM460 435h1v7h-1zM732 435h1v7h-1z" fill="#808080"/>
<path d="M865 440h3v1h-3zM859 441h9v1h-9zM278 442h3v1h-3zM853 442h13v1h-13zM276 443h7v1h-7zM847 443h13v1h-13zM274 444h5v1h-5zM280 444h5v1h-5zM841 444h13v1h-13zM272 445h5v1h-5zM282 445h5v1h-5zM834 445h14v1h-14zM270 446h5v1h-5zM284 446h5v1h-5zM826 446h16v1h-16zM268 447h5v1h-5zM286 447h5v1h-5zM821 447h14v1h-14zM266 448h5v1h-5zM288 448h5v1h-5zM818 448h9v1h-9zM264 449h5v1h-5zM290 449h5v1h-5zM345 449h3v1h-3zM815 449h7v1h-7zM262 450h5v1h-5zM292 450h5v1h-5zM341 450h9v1h-9zM662 450h4v1h-4zM812 450h7v1h-7zM260 451h5v1h-5zM294 451h5v1h-5zM337 451h9v1h-9zM347 451h5v1h-5zM549 451h4v1h-4zM658 451h12v1h-12zM810 451h6v1h-6zM258 452h5v1h-5zM296 452h5v1h-5zM333 452h9v1h-9zM349 452h4v1h-4zM546 452h9v1h-9zM654 452h9v1h-9zM665 452h9v1h-9zM807 452h6v1h-6zM256 453h5v1h-5zM298 453h9v1h-9zM329 453h9v1h-9zM351 453h4v1h-4zM543 453h7v1h-7zM552 453h6v1h-6zM650 453h9v1h-9zM669 453h9v1h-9zM752 453h9v1h-9zM804 453h7v1h-7zM253 454h6v1h-6zM300 454h19v1h-19zM325 454h9v1h-9zM352 454h5v1h-5zM540 454h7v1h-7zM554 454h6v1h-6zM646 454h9v1h-9zM673 454h9v1h-9zM746 454h26v1h-26zM801 454h7v1h-7zM247 455h10v1h-10zM306 455h24v1h-24zM354 455h5v1h-5zM538 455h6v1h-6zM557 455h6v1h-6zM642 455h9v1h-9zM677 455h9v1h-9zM740 455h13v1h-13zM760 455h45v1h-45zM241 456h13v1h-13zM318 456h8v1h-8zM356 456h4v1h-4zM535 456h6v1h-6zM559 456h6v1h-6zM638 456h9v1h-9zM681 456h9v1h-9zM734 456h13v1h-13zM771 456h31v1h-31zM235 457h13v1h-13zM358 457h4v1h-4zM434 457h51v1h-51zM532 457h7v1h-7zM562 457h5v1h-5zM592 457h7v1h-7zM634 457h9v1h-9zM685 457h11v1h-11zM728 457h13v1h-13zM229 458h13v1h-13zM359 458h5v1h-5zM428 458h61v1h-61zM529 458h7v1h-7zM564 458h6v1h-6zM584 458h21v1h-21zM630 458h9v1h-9zM689 458h12v1h-12zM720 458h15v1h-15zM222 459h14v1h-14zM361 459h4v1h-4zM423 459h12v1h-12zM484 459h9v1h-9zM525 459h8v1h-8zM566 459h6v1h-6zM576 459h17v1h-17zM598 459h13v1h-13zM625 459h10v1h-10zM695 459h12v1h-12zM712 459h17v1h-17zM214 460h16v1h-16zM363 460h4v1h-4zM417 460h12v1h-12zM488 460h8v1h-8zM519 460h11v1h-11zM569 460h16v1h-16zM604 460h13v1h-13zM621 460h10v1h-10zM700 460h21v1h-21zM199 461h24v1h-24zM364 461h5v1h-5zM380 461h44v1h-44zM492 461h8v1h-8zM513 461h13v1h-13zM571 461h6v1h-6zM610 461h16v1h-16zM706 461h7v1h-7zM188 462h27v1h-27zM366 462h52v1h-52zM495 462h9v1h-9zM507 462h13v1h-13zM616 462h6v1h-6zM188 463h12v1h-12zM368 463h13v1h-13zM499 463h15v1h-15zM503 464h5v1h-5z" fill="#00ff00"/>
<path d="M842 165h26v1h-26zM836 166h32v1h-32zM831 167h12v1h-12zM825 168h12v1h-12zM572 169h260v1h-260zM572 170h254v1h-254zM571 171h3v1h-3zM571 172h2v1h-2zM570 173h3v1h-3zM570 174h2v1h-2zM569 175h3v1h-3zM569 176h2v1h-2zM568 177h3v1h-3zM568 178h2v1h-2zM567 179h3v1h-3zM567 180h2v1h-2zM566 181h3v1h-3zM566 182h2v1h-2zM565 183h3v1h-3zM565 184h2v1h-2zM564 185h3v1h-3zM564 186h2v1h-2zM563 187h3v1h-3zM563 188h2v1h-2zM562 189h3v1h-3zM562 190h2v1h-2zM561 191h3v1h-3zM561 192h2v2h-2zM560 194h3v1h-3zM560 195h2v1h-2zM559 196h3v1h-3zM559 197h2v1h-2zM558 198h3v1h-3zM558 199h2v1h-2zM557 200h3v1h-3zM557 201h2v1h-2zM556 202h3v1h-3zM556 203h2v1h-2zM555 204h3v1h-3zM555 205h2v1h-2zM554 206h3v1h-3zM554 207h2v1h-2zM553 208h3v1h-3zM553 209h2v1h-2zM552 210h3v1h-3zM552 211h2v1h-2zM551 212h3v1h-3zM551 213h2v1h-2zM550 214h3v1h-3zM412 215h140v1h-140zM406 216h146v1h-146zM400 217h13v1h-13zM394 218h13v1h-13zM346 219h55v1h-55zM346 220h49v1h-49zM346 221h2v1h-2zM345 222h3v1h-3zM345 223h2v5h-2zM344 228h3v1h-3zM344 229h2v5h-2zM343 234h3v1h-3zM343 235h2v4h-2zM342 239h3v1h-3zM342 240h2v5h-2zM341 245h3v1h-3zM341 246h2v5h-2zM340 251h3v1h-3zM340 252h2v4h-2zM339 256h3v1h-3zM339 257h2v5h-2zM338 262h3v1h-3zM338 263h2v5h-2zM337 268h3v1h-3zM337 269h2v4h-2zM336 273h3v1h-3zM336 274h2v5h-2zM335 279h3v1h-3zM335 280h2v4h-2zM334 284h3v1h-3zM334 285h2v5h-2zM333 290h3v1h-3zM333 291h2v5h-2zM332 296h3v1h-3zM332 297h2v4h-2zM331 301h3v1h-3zM331 302h2v5h-2zM330 307h3v1h-3zM330 308h2v5h-2zM329 313h3v1h-3zM329 314h2v4h-2zM328 318h3v1h-3zM328 319h2v5h-2zM327 324h3v1h-3zM327 325h2v5h-2zM326 330h3v1h-3zM326 331h2v4h-2zM325 335h3v1h-3zM325 336h2v5h-2zM324 341h3v1h-3zM324 342h2v5h-2zM323 347h3v1h-3zM323 348h2v2h-2zM322 350h3v1h-3zM321 351h3v1h-3zM321 352h2v1h-2zM320 353h3v1h-3zM319 354h3v1h-3zM318 355h3v1h-3zM318 356h2v1h-2zM317 357h3v1h-3zM316 358h3v1h-3zM315 359h3v1h-3zM315 360h2v1h-2zM314 361h3v1h-3zM313 362h3v1h-3zM312 363h3v1h-3zM311 364h3v1h-3zM311 365h2v1h-2zM310 366h3v1h-3zM309 367h3v1h-3zM308 368h3v1h-3zM308 369h2v1h-2zM307 370h3v1h-3zM306 371h3v1h-3zM305 372h3v1h-3zM305 373h2v1h-2zM304 374h3v1h-3zM303 375h3v1h-3zM302 376h3v1h-3zM302 377h2v1h-2zM301 378h3v1h-3zM278 379h25v1h-25zM278 380h24v1h-24zM277 381h3v1h-3zM277 382h2v3h-2zM276 385h3v1h-3zM276 386h2v2h-2zM275 388h3v1h-3zM275 389h2v3h-2zM274 392h3v1h-3zM274 393h2v3h-2zM273 396h3v1h-3zM273 397h2v2h-2zM272 399h3v1h-3zM272 400h2v3h-2zM271 403h3v1h-3zM271 404h2v2h-2zM270 406h3v1h-3zM270 407h2v3h-2zM269 410h3v1h-3zM269 411h2v2h-2zM268 413h3v1h-3zM268 414h2v3h-2zM267 417h3v1h-3zM267 418h2v2h-2zM266 420h3v1h-3zM266 421h2v3h-2zM265 424h3v1h-3zM265 425h2v3h-2zM264 428h3v1h-3zM264 429h2v2h-2zM263 431h3v1h-3zM263 432h2v3h-2zM262 435h3v1h-3zM262 436h2v2h-2zM261 438h3v1h-3zM261 439h2v3h-2zM260 442h3v1h-3zM260 443h2v2h-2zM259 445h3v1h-3zM259 446h2v3h-2zM258 449h3v1h-3zM258 450h2v3h-2zM257 453h3v1h-3zM257 454h2v2h-2zM256 456h3v1h-3zM256 457h2v3h-2zM255 460h3v1h-3zM208 461h49v1h-49zM202 462h55v1h-55zM196 463h13v1h-13zM190 464h13v1h-13zM188 465h9v1h-9z" fill="#0000a0"/>
<path d="M368 138h3v1h-3zM368 139h5v1h-5zM367 140h8v1h-8zM372 141h5v1h-5zM374 142h5v1h-5zM367 141h2v3h-2zM376 143h5v1h-5zM366 144h3v1h-3zM378 144h5v1h-5zM380 145h5v1h-5zM382 146h5v1h-5zM366 145h2v3h-2zM384 147h5v1h-5zM365 148h3v1h-3zM386 148h5v1h-5zM388 149h5v1h-5zM365 149h2v2h-2zM390 150h4v1h-4zM364 151h3v1h-3zM392 151h3v1h-3zM393 152h3v1h-3zM394 153h3v1h-3zM364 152h2v3h-2zM395 154h4v1h-4zM363 155h3v1h-3zM396 155h4v1h-4zM398 156h3v1h-3zM618 156h4v1h-4zM363 156h2v2h-2zM399 157h3v1h-3zM617 157h9v1h-9zM362 158h3v1h-3zM400 158h3v1h-3zM617 158h2v1h-2zM621 158h10v1h-10zM401 159h3v1h-3zM616 159h3v1h-3zM625 159h10v1h-10zM402 160h3v1h-3zM616 160h2v1h-2zM630 160h9v1h-9zM362 159h2v3h-2zM403 161h3v1h-3zM615 161h3v1h-3zM634 161h8v1h-8zM361 162h3v1h-3zM404 162h3v1h-3zM615 162h2v1h-2zM638 162h5v1h-5zM405 163h3v1h-3zM614 163h3v1h-3zM641 163h2v1h-2zM406 164h3v1h-3zM614 164h2v1h-2zM641 164h3v1h-3zM361 163h2v3h-2zM407 165h4v1h-4zM613 165h3v1h-3zM642 165h3v1h-3zM360 166h3v1h-3zM408 166h4v1h-4zM613 166h2v1h-2zM643 166h2v1h-2zM410 167h3v1h-3zM612 167h3v1h-3zM643 167h3v1h-3zM360 167h2v2h-2zM411 168h3v1h-3zM612 168h2v1h-2zM644 168h2v1h-2zM359 169h3v1h-3zM412 169h3v1h-3zM611 169h3v1h-3zM644 169h3v1h-3zM413 170h4v1h-4zM611 170h2v1h-2zM645 170h3v1h-3zM414 171h5v1h-5zM610 171h3v1h-3zM646 171h2v1h-2zM359 170h2v3h-2zM416 172h5v1h-5zM610 172h2v1h-2zM646 172h3v1h-3zM358 173h3v1h-3zM418 173h5v1h-5zM609 173h3v1h-3zM647 173h3v1h-3zM420 174h5v1h-5zM609 174h2v1h-2zM648 174h2v1h-2zM422 175h6v1h-6zM608 175h3v1h-3zM648 175h3v1h-3zM358 174h2v3h-2zM424 176h6v1h-6zM457 176h5v1h-5zM608 176h2v1h-2zM649 176h3v1h-3zM357 177h3v1h-3zM427 177h5v1h-5zM451 177h15v1h-15zM607 177h3v1h-3zM650 177h2v1h-2zM429 178h5v1h-5zM445 178h13v1h-13zM461 178h9v1h-9zM606 178h3v1h-3zM650 178h3v1h-3zM754 178h24v1h-24zM357 178h2v2h-2zM431 179h5v1h-5zM439 179h13v1h-13zM465 179h9v1h-9zM606 179h2v1h-2zM651 179h2v1h-2zM753 179h26v1h-26zM356 180h3v1h-3zM433 180h13v1h-13zM469 180h9v1h-9zM605 180h3v1h-3zM651 180h3v1h-3zM752 180h3v1h-3zM777 180h3v1h-3zM435 181h5v1h-5zM473 181h9v1h-9zM605 181h2v1h-2zM652 181h3v1h-3zM751 181h3v1h-3zM778 181h3v1h-3zM477 182h7v1h-7zM604 182h3v1h-3zM653 182h2v1h-2zM750 182h3v1h-3zM779 182h3v1h-3zM356 181h2v3h-2zM481 183h4v1h-4zM604 183h2v1h-2zM653 183h3v1h-3zM749 183h3v1h-3zM780 183h3v1h-3zM355 184h3v1h-3zM483 184h4v1h-4zM603 184h3v1h-3zM654 184h3v1h-3zM748 184h3v1h-3zM781 184h3v1h-3zM484 185h4v1h-4zM603 185h2v1h-2zM655 185h2v1h-2zM747 185h3v1h-3zM782 185h3v1h-3zM486 186h3v1h-3zM602 186h3v1h-3zM655 186h3v1h-3zM746 186h3v1h-3zM783 186h3v1h-3zM355 185h2v3h-2zM487 187h4v1h-4zM602 187h2v1h-2zM656 187h3v1h-3zM745 187h3v1h-3zM784 187h3v1h-3zM354 188h3v1h-3zM488 188h4v1h-4zM601 188h3v1h-3zM657 188h2v1h-2zM744 188h3v1h-3zM785 188h3v1h-3zM490 189h3v1h-3zM601 189h2v1h-2zM657 189h3v1h-3zM743 189h3v1h-3zM786 189h3v1h-3zM354 189h2v2h-2zM491 190h4v1h-4zM600 190h3v1h-3zM658 190h3v1h-3zM742 190h3v1h-3zM787 190h2v1h-2zM353 191h3v1h-3zM492 191h4v1h-4zM600 191h2v1h-2zM659 191h2v1h-2zM741 191h3v1h-3zM787 191h3v1h-3zM494 192h3v1h-3zM599 192h3v1h-3zM659 192h3v1h-3zM740 192h3v1h-3zM788 192h3v1h-3zM495 193h3v1h-3zM599 193h2v1h-2zM660 193h2v1h-2zM739 193h3v1h-3zM789 193h3v1h-3zM353 192h2v3h-2zM496 194h4v1h-4zM598 194h3v1h-3zM660 194h3v1h-3zM738 194h3v1h-3zM790 194h3v1h-3zM352 195h3v1h-3zM497 195h4v1h-4zM598 195h2v1h-2zM661 195h3v1h-3zM737 195h3v1h-3zM791 195h3v1h-3zM499 196h3v1h-3zM597 196h3v1h-3zM662 196h2v1h-2zM736 196h3v1h-3zM792 196h3v1h-3zM352 196h2v2h-2zM500 197h4v1h-4zM597 197h2v1h-2zM662 197h3v1h-3zM735 197h3v1h-3zM793 197h3v1h-3zM351 198h3v1h-3zM501 198h4v1h-4zM596 198h3v1h-3zM663 198h3v1h-3zM734 198h3v1h-3zM794 198h3v1h-3zM503 199h3v1h-3zM596 199h2v1h-2zM664 199h3v1h-3zM733 199h3v1h-3zM795 199h3v1h-3zM504 200h3v1h-3zM595 200h3v1h-3zM665 200h3v1h-3zM732 200h3v1h-3zM796 200h3v1h-3zM351 199h2v3h-2zM505 201h2v1h-2zM595 201h2v1h-2zM666 201h2v1h-2zM731 201h3v1h-3zM797 201h3v1h-3zM350 202h3v1h-3zM505 202h3v1h-3zM594 202h3v1h-3zM666 202h3v1h-3zM730 202h3v1h-3zM798 202h3v1h-3zM506 203h2v1h-2zM667 203h3v1h-3zM729 203h3v1h-3zM799 203h3v1h-3zM506 204h3v1h-3zM668 204h3v1h-3zM728 204h3v1h-3zM800 204h2v1h-2zM350 203h2v3h-2zM507 205h2v1h-2zM594 203h2v3h-2zM669 205h3v1h-3zM727 205h3v1h-3zM800 205h3v1h-3zM349 206h3v1h-3zM507 206h3v1h-3zM593 206h3v1h-3zM670 206h3v1h-3zM726 206h3v1h-3zM801 206h2v1h-2zM508 207h2v1h-2zM671 207h3v1h-3zM725 207h3v1h-3zM801 207h3v1h-3zM349 207h2v2h-2zM508 208h3v1h-3zM593 207h2v2h-2zM672 208h2v1h-2zM724 208h3v1h-3zM802 208h2v1h-2zM348 209h3v1h-3zM509 209h2v1h-2zM592 209h3v1h-3zM672 209h3v1h-3zM723 209h3v1h-3zM802 209h3v1h-3zM509 210h3v1h-3zM673 210h3v1h-3zM722 210h3v1h-3zM803 210h2v1h-2zM510 211h3v1h-3zM592 210h2v2h-2zM674 211h3v1h-3zM721 211h3v1h-3zM803 211h3v1h-3zM348 210h2v3h-2zM511 212h2v1h-2zM591 212h3v1h-3zM675 212h3v1h-3zM720 212h3v1h-3zM804 212h2v1h-2zM347 213h3v1h-3zM511 213h3v1h-3zM676 213h3v1h-3zM719 213h3v1h-3zM804 213h3v1h-3zM512 214h2v1h-2zM677 214h2v1h-2zM718 214h3v1h-3zM805 214h2v1h-2zM512 215h3v1h-3zM591 213h2v3h-2zM677 215h3v1h-3zM717 215h3v1h-3zM805 215h3v1h-3zM347 214h2v3h-2zM513 216h2v1h-2zM590 216h3v1h-3zM678 216h3v1h-3zM716 216h3v1h-3zM806 216h2v1h-2zM346 217h3v1h-3zM513 217h3v1h-3zM679 217h3v1h-3zM715 217h3v1h-3zM806 217h3v1h-3zM209 218h3v1h-3zM346 218h2v1h-2zM514 218h2v1h-2zM590 217h2v2h-2zM680 218h3v1h-3zM714 218h3v1h-3zM807 218h3v1h-3zM206 219h8v1h-8zM345 219h3v1h-3zM514 219h3v1h-3zM589 219h3v1h-3zM681 219h3v1h-3zM713 219h3v1h-3zM808 219h2v1h-2zM202 220h8v1h-8zM211 220h5v1h-5zM343 220h4v1h-4zM515 220h2v1h-2zM682 220h3v1h-3zM712 220h3v1h-3zM808 220h3v1h-3zM199 221h8v1h-8zM213 221h4v1h-4zM342 221h4v1h-4zM515 221h3v1h-3zM683 221h2v1h-2zM711 221h3v1h-3zM809 221h2v1h-2zM196 222h7v1h-7zM215 222h4v1h-4zM341 222h3v1h-3zM516 222h3v1h-3zM589 220h2v3h-2zM683 222h3v1h-3zM710 222h3v1h-3zM809 222h3v1h-3zM192 223h8v1h-8zM216 223h5v1h-5zM340 223h3v1h-3zM517 223h2v1h-2zM588 223h3v1h-3zM684 223h3v1h-3zM709 223h3v1h-3zM810 223h2v1h-2zM189 224h8v1h-8zM218 224h5v1h-5zM339 224h3v1h-3zM517 224h3v1h-3zM685 224h26v1h-26zM810 224h3v1h-3zM188 225h5v1h-5zM220 225h4v1h-4zM337 225h4v1h-4zM518 225h2v1h-2zM588 224h2v2h-2zM686 225h24v1h-24zM811 225h2v1h-2zM188 226h2v1h-2zM222 226h4v1h-4zM336 226h4v1h-4zM518 226h3v1h-3zM587 226h3v1h-3zM811 226h3v1h-3zM223 227h5v1h-5zM300 227h3v1h-3zM335 227h3v1h-3zM519 227h2v1h-2zM812 227h2v1h-2zM225 228h4v1h-4zM299 228h6v1h-6zM334 228h3v1h-3zM519 228h3v1h-3zM587 227h2v2h-2zM812 228h3v1h-3zM227 229h4v1h-4zM299 229h2v1h-2zM302 229h5v1h-5zM333 229h3v1h-3zM520 229h2v1h-2zM586 229h3v1h-3zM813 229h2v1h-2zM228 230h5v1h-5zM298 230h3v1h-3zM304 230h6v1h-6zM331 230h4v1h-4zM520 230h3v1h-3zM813 230h3v1h-3zM230 231h4v1h-4zM298 231h2v1h-2zM306 231h6v1h-6zM330 231h4v1h-4zM521 231h3v1h-3zM814 231h3v1h-3zM232 232h3v1h-3zM297 232h3v1h-3zM309 232h5v1h-5zM329 232h3v1h-3zM522 232h2v1h-2zM586 230h2v3h-2zM815 232h2v1h-2zM233 233h3v1h-3zM296 233h3v1h-3zM311 233h5v1h-5zM328 233h3v1h-3zM522 233h3v1h-3zM585 233h3v1h-3zM815 233h3v1h-3zM234 234h3v1h-3zM296 234h2v1h-2zM313 234h6v1h-6zM327 234h3v1h-3zM523 234h2v1h-2zM816 234h2v1h-2zM235 235h3v1h-3zM295 235h3v1h-3zM315 235h6v1h-6zM325 235h4v1h-4zM523 235h3v1h-3zM585 234h2v2h-2zM816 235h3v1h-3zM236 236h3v1h-3zM295 236h2v1h-2zM318 236h5v1h-5zM324 236h4v1h-4zM524 236h2v1h-2zM584 236h3v1h-3zM817 236h2v1h-2zM237 237h3v1h-3zM294 237h3v1h-3zM320 237h6v1h-6zM524 237h3v1h-3zM817 237h3v1h-3zM238 238h3v1h-3zM293 238h3v1h-3zM322 238h3v1h-3zM525 238h2v1h-2zM584 237h2v2h-2zM818 238h2v1h-2zM239 239h3v1h-3zM293 239h2v1h-2zM525 239h3v1h-3zM583 239h3v1h-3zM818 239h3v1h-3zM240 240h3v1h-3zM292 240h3v1h-3zM526 240h2v1h-2zM819 240h2v1h-2zM241 241h3v1h-3zM292 241h2v1h-2zM526 241h3v1h-3zM819 241h3v1h-3zM242 242h4v1h-4zM291 242h3v1h-3zM527 242h3v1h-3zM583 240h2v3h-2zM820 242h2v1h-2zM243 243h4v1h-4zM290 243h3v1h-3zM528 243h2v1h-2zM582 243h3v1h-3zM820 243h3v1h-3zM245 244h3v1h-3zM290 244h2v1h-2zM528 244h3v1h-3zM821 244h2v1h-2zM246 245h3v1h-3zM289 245h3v1h-3zM529 245h3v1h-3zM582 244h2v2h-2zM821 245h3v1h-3zM247 246h3v1h-3zM289 246h2v1h-2zM530 246h2v1h-2zM581 246h3v1h-3zM822 246h3v1h-3zM248 247h3v1h-3zM288 247h3v1h-3zM530 247h3v1h-3zM823 247h3v1h-3zM249 248h3v1h-3zM288 248h2v1h-2zM531 248h3v1h-3zM824 248h3v1h-3zM250 249h3v1h-3zM287 249h3v1h-3zM532 249h3v1h-3zM581 247h2v3h-2zM825 249h3v1h-3zM251 250h3v1h-3zM286 250h3v1h-3zM533 250h2v1h-2zM580 250h3v1h-3zM826 250h4v1h-4zM252 251h3v1h-3zM286 251h2v1h-2zM533 251h3v1h-3zM827 251h4v1h-4zM253 252h3v1h-3zM285 252h3v1h-3zM534 252h3v1h-3zM580 251h2v2h-2zM829 252h3v1h-3zM254 253h4v1h-4zM285 253h2v1h-2zM535 253h2v1h-2zM579 253h3v1h-3zM830 253h3v1h-3zM255 254h5v1h-5zM284 254h3v1h-3zM535 254h3v1h-3zM831 254h3v1h-3zM257 255h5v1h-5zM283 255h3v1h-3zM536 255h3v1h-3zM579 254h2v2h-2zM832 255h3v1h-3zM259 256h5v1h-5zM283 256h2v1h-2zM537 256h2v1h-2zM578 256h3v1h-3zM833 256h3v1h-3zM261 257h5v1h-5zM282 257h3v1h-3zM537 257h3v1h-3zM834 257h3v1h-3zM263 258h5v1h-5zM282 258h2v1h-2zM538 258h3v1h-3zM835 258h3v1h-3zM265 259h5v1h-5zM281 259h3v1h-3zM539 259h3v1h-3zM578 257h2v3h-2zM836 259h3v1h-3zM267 260h5v1h-5zM280 260h3v1h-3zM540 260h2v1h-2zM577 260h3v1h-3zM837 260h4v1h-4zM269 261h5v1h-5zM280 261h2v1h-2zM540 261h3v1h-3zM838 261h4v1h-4zM271 262h5v1h-5zM279 262h3v1h-3zM541 262h3v1h-3zM577 261h2v2h-2zM840 262h3v1h-3zM273 263h5v1h-5zM279 263h2v1h-2zM542 263h2v1h-2zM576 263h3v1h-3zM841 263h3v1h-3zM275 264h6v1h-6zM542 264h3v1h-3zM842 264h3v1h-3zM277 265h3v1h-3zM543 265h3v1h-3zM843 265h3v1h-3zM544 266h2v1h-2zM576 264h2v3h-2zM844 266h3v1h-3zM544 267h3v1h-3zM575 267h3v1h-3zM845 267h2v1h-2zM545 268h3v1h-3zM845 268h3v1h-3zM546 269h3v1h-3zM575 268h2v2h-2zM846 269h2v1h-2zM547 270h2v1h-2zM574 270h3v1h-3zM846 270h3v1h-3zM547 271h3v1h-3zM847 271h2v1h-2zM548 272h3v1h-3zM574 271h2v2h-2zM847 272h3v1h-3zM549 273h2v1h-2zM573 273h3v1h-3zM848 273h3v1h-3zM549 274h5v1h-5zM849 274h2v1h-2zM550 275h10v1h-10zM849 275h3v1h-3zM553 276h12v1h-12zM573 274h2v3h-2zM850 276h2v1h-2zM559 277h12v1h-12zM572 277h3v1h-3zM850 277h3v1h-3zM564 278h10v1h-10zM851 278h2v1h-2zM570 279h4v1h-4zM851 279h3v1h-3zM852 280h3v1h-3zM853 281h2v1h-2zM853 282h3v1h-3zM854 283h2v1h-2zM854 284h3v1h-3zM855 285h2v1h-2zM855 286h3v1h-3zM856 287h3v1h-3zM857 288h2v1h-2zM857 289h3v1h-3zM858 290h2v1h-2zM858 291h3v1h-3zM859 292h3v1h-3zM860 293h2v1h-2zM860 294h3v1h-3zM861 295h2v1h-2zM861 296h3v1h-3zM862 297h2v1h-2zM862 298h3v1h-3zM863 299h3v1h-3zM864 300h2v1h-2zM864 301h3v1h-3zM865 302h2v1h-2zM865 303h3v1h-3zM866 304h2v2h-2zM867 306h1v1h-1z" fill="#000000"/>
<path d="M188 113h24v1h-24zM188 114h26v1h-26zM211 115h5v1h-5zM213 116h5v1h-5zM215 117h5v1h-5zM217 118h5v1h-5zM219 119h4v1h-4zM221 120h4v1h-4zM222 121h5v1h-5zM224 122h5v1h-5zM226 123h5v1h-5zM228 124h5v1h-5zM230 125h4v1h-4zM232 126h3v1h-3zM233 127h2v1h-2zM233 128h3v1h-3zM234 129h2v1h-2zM234 130h3v1h-3zM235 131h2v1h-2zM235 132h3v1h-3zM236 133h2v1h-2zM236 134h3v1h-3zM237 135h2v1h-2zM237 136h3v1h-3zM238 137h2v1h-2zM238 138h3v1h-3zM239 139h2v1h-2zM239 140h3v1h-3zM240 141h2v1h-2zM240 142h3v1h-3zM241 143h2v1h-2zM241 144h3v1h-3zM242 145h2v1h-2zM242 146h3v1h-3zM243 147h2v1h-2zM572 147h2v1h-2zM243 148h3v1h-3zM572 148h4v1h-4zM244 149h2v1h-2zM572 149h6v1h-6zM244 150h3v1h-3zM571 150h3v1h-3zM575 150h4v1h-4zM245 151h2v1h-2zM577 151h4v1h-4zM245 152h3v1h-3zM458 152h3v1h-3zM578 152h5v1h-5zM246 153h2v1h-2zM455 153h7v1h-7zM580 153h4v1h-4zM246 154h3v1h-3zM452 154h7v1h-7zM460 154h3v1h-3zM571 151h2v4h-2zM582 154h4v1h-4zM247 155h2v1h-2zM449 155h7v1h-7zM461 155h2v1h-2zM570 155h3v1h-3zM583 155h4v1h-4zM247 156h3v1h-3zM414 156h4v1h-4zM447 156h6v1h-6zM461 156h3v1h-3zM585 156h4v1h-4zM248 157h2v1h-2zM413 157h11v1h-11zM444 157h6v1h-6zM462 157h3v1h-3zM586 157h5v1h-5zM248 158h3v1h-3zM413 158h2v1h-2zM417 158h12v1h-12zM441 158h7v1h-7zM463 158h3v1h-3zM588 158h4v1h-4zM249 159h2v1h-2zM412 159h3v1h-3zM423 159h12v1h-12zM438 159h7v1h-7zM464 159h2v1h-2zM590 159h4v1h-4zM249 160h3v1h-3zM411 160h3v1h-3zM428 160h14v1h-14zM464 160h3v1h-3zM570 156h2v5h-2zM591 160h5v1h-5zM250 161h2v1h-2zM410 161h3v1h-3zM434 161h5v1h-5zM465 161h3v1h-3zM569 161h3v1h-3zM593 161h4v1h-4zM250 162h3v1h-3zM410 162h2v1h-2zM466 162h3v1h-3zM595 162h3v1h-3zM251 163h2v1h-2zM409 163h3v1h-3zM467 163h2v1h-2zM596 163h2v1h-2zM251 164h3v1h-3zM408 164h3v1h-3zM467 164h3v1h-3zM596 164h3v1h-3zM252 165h2v1h-2zM407 165h3v1h-3zM468 165h3v1h-3zM569 162h2v4h-2zM597 165h2v1h-2zM252 166h3v1h-3zM407 166h2v1h-2zM469 166h3v1h-3zM568 166h3v1h-3zM597 166h3v1h-3zM253 167h2v1h-2zM406 167h3v1h-3zM470 167h2v1h-2zM598 167h2v1h-2zM253 168h3v1h-3zM405 168h3v1h-3zM470 168h3v1h-3zM598 168h3v1h-3zM254 169h2v1h-2zM404 169h3v1h-3zM471 169h3v1h-3zM599 169h3v1h-3zM254 170h26v1h-26zM404 170h2v1h-2zM472 170h3v1h-3zM568 167h2v4h-2zM600 170h2v1h-2zM255 171h25v1h-25zM403 171h3v1h-3zM473 171h3v1h-3zM567 171h3v1h-3zM600 171h3v1h-3zM278 172h3v1h-3zM346 172h4v1h-4zM402 172h3v1h-3zM474 172h2v1h-2zM601 172h2v1h-2zM344 173h10v1h-10zM401 173h3v1h-3zM474 173h3v1h-3zM503 173h3v1h-3zM601 173h3v1h-3zM279 173h2v2h-2zM343 174h4v1h-4zM349 174h10v1h-10zM401 174h2v1h-2zM475 174h3v1h-3zM501 174h6v1h-6zM602 174h2v1h-2zM279 175h3v1h-3zM341 175h4v1h-4zM353 175h10v1h-10zM400 175h3v1h-3zM476 175h3v1h-3zM498 175h6v1h-6zM505 175h2v1h-2zM567 172h2v4h-2zM602 175h3v1h-3zM340 176h4v1h-4zM358 176h9v1h-9zM399 176h3v1h-3zM477 176h2v1h-2zM496 176h6v1h-6zM505 176h3v1h-3zM566 176h3v1h-3zM603 176h3v1h-3zM280 176h2v2h-2zM338 177h4v1h-4zM362 177h9v1h-9zM398 177h3v1h-3zM477 177h3v1h-3zM494 177h5v1h-5zM506 177h2v1h-2zM604 177h2v1h-2zM280 178h3v1h-3zM337 178h4v1h-4zM366 178h7v1h-7zM398 178h2v1h-2zM478 178h3v1h-3zM491 178h6v1h-6zM506 178h3v1h-3zM604 178h3v1h-3zM335 179h4v1h-4zM370 179h5v1h-5zM397 179h3v1h-3zM479 179h3v1h-3zM489 179h6v1h-6zM507 179h3v1h-3zM605 179h2v1h-2zM281 179h2v2h-2zM333 180h5v1h-5zM372 180h6v1h-6zM396 180h3v1h-3zM480 180h2v1h-2zM486 180h6v1h-6zM508 180h2v1h-2zM566 177h2v4h-2zM605 180h3v1h-3zM281 181h3v1h-3zM332 181h4v1h-4zM374 181h6v1h-6zM395 181h3v1h-3zM480 181h3v1h-3zM484 181h6v1h-6zM508 181h3v1h-3zM565 181h3v1h-3zM606 181h2v1h-2zM330 182h4v1h-4zM377 182h5v1h-5zM395 182h2v1h-2zM481 182h6v1h-6zM509 182h2v1h-2zM606 182h3v1h-3zM282 182h2v2h-2zM329 183h4v1h-4zM379 183h5v1h-5zM394 183h3v1h-3zM482 183h3v1h-3zM509 183h3v1h-3zM607 183h3v1h-3zM282 184h3v1h-3zM327 184h4v1h-4zM381 184h6v1h-6zM393 184h3v1h-3zM510 184h3v1h-3zM608 184h2v1h-2zM326 185h4v1h-4zM383 185h6v1h-6zM392 185h3v1h-3zM511 185h2v1h-2zM608 185h3v1h-3zM283 185h2v2h-2zM324 186h4v1h-4zM386 186h5v1h-5zM392 186h2v1h-2zM511 186h3v1h-3zM565 182h2v5h-2zM609 186h2v1h-2zM283 187h3v1h-3zM323 187h4v1h-4zM388 187h6v1h-6zM512 187h2v1h-2zM564 187h3v1h-3zM609 187h3v1h-3zM284 188h2v1h-2zM323 188h2v1h-2zM390 188h3v1h-3zM512 188h3v1h-3zM610 188h3v1h-3zM844 188h2v1h-2zM284 189h3v1h-3zM322 189h3v1h-3zM513 189h3v1h-3zM611 189h2v1h-2zM843 189h5v1h-5zM322 190h2v1h-2zM514 190h2v1h-2zM611 190h3v1h-3zM843 190h7v1h-7zM285 190h2v2h-2zM321 191h3v1h-3zM514 191h3v1h-3zM564 188h2v4h-2zM612 191h2v1h-2zM842 191h3v1h-3zM847 191h5v1h-5zM285 192h3v1h-3zM321 192h2v1h-2zM515 192h2v1h-2zM563 192h3v1h-3zM612 192h3v1h-3zM841 192h3v1h-3zM849 192h5v1h-5zM320 193h3v1h-3zM515 193h3v1h-3zM613 193h2v1h-2zM840 193h3v1h-3zM851 193h5v1h-5zM286 193h2v2h-2zM320 194h2v1h-2zM516 194h3v1h-3zM613 194h3v1h-3zM840 194h2v1h-2zM853 194h5v1h-5zM286 195h3v1h-3zM319 195h3v1h-3zM517 195h2v1h-2zM614 195h3v1h-3zM839 195h3v1h-3zM855 195h5v1h-5zM319 196h2v1h-2zM517 196h3v1h-3zM563 193h2v4h-2zM615 196h2v1h-2zM838 196h3v1h-3zM857 196h5v1h-5zM287 196h2v2h-2zM318 197h3v1h-3zM518 197h3v1h-3zM562 197h3v1h-3zM615 197h3v1h-3zM837 197h3v1h-3zM859 197h5v1h-5zM287 198h3v1h-3zM318 198h2v1h-2zM519 198h2v1h-2zM616 198h2v1h-2zM837 198h2v1h-2zM861 198h5v1h-5zM317 199h3v1h-3zM519 199h3v1h-3zM616 199h3v1h-3zM836 199h3v1h-3zM863 199h5v1h-5zM288 199h2v2h-2zM317 200h2v1h-2zM520 200h2v1h-2zM617 200h2v1h-2zM835 200h3v1h-3zM865 200h3v1h-3zM288 201h3v1h-3zM316 201h3v1h-3zM520 201h3v1h-3zM562 198h2v4h-2zM617 201h3v1h-3zM834 201h3v1h-3zM867 201h1v1h-1zM316 202h2v1h-2zM521 202h3v1h-3zM561 202h3v1h-3zM618 202h3v1h-3zM834 202h2v1h-2zM289 202h2v2h-2zM315 203h3v1h-3zM522 203h2v1h-2zM619 203h2v1h-2zM833 203h3v1h-3zM289 204h3v1h-3zM315 204h2v1h-2zM522 204h3v1h-3zM619 204h3v1h-3zM832 204h3v1h-3zM314 205h3v1h-3zM523 205h2v1h-2zM620 205h2v1h-2zM832 205h2v1h-2zM290 205h2v2h-2zM314 206h2v1h-2zM523 206h3v1h-3zM620 206h3v1h-3zM831 206h3v1h-3zM290 207h3v1h-3zM313 207h3v1h-3zM524 207h3v1h-3zM561 203h2v5h-2zM621 207h2v1h-2zM830 207h3v1h-3zM313 208h2v1h-2zM525 208h2v1h-2zM560 208h3v1h-3zM621 208h3v1h-3zM829 208h3v1h-3zM291 208h2v2h-2zM312 209h3v1h-3zM525 209h3v1h-3zM622 209h3v1h-3zM829 209h2v1h-2zM291 210h3v1h-3zM312 210h2v1h-2zM526 210h2v1h-2zM623 210h2v1h-2zM686 210h24v1h-24zM828 210h3v1h-3zM311 211h3v1h-3zM526 211h3v1h-3zM623 211h3v1h-3zM685 211h26v1h-26zM827 211h3v1h-3zM292 211h2v2h-2zM311 212h2v1h-2zM527 212h2v1h-2zM560 209h2v4h-2zM624 212h2v1h-2zM685 212h2v1h-2zM709 212h2v1h-2zM826 212h3v1h-3zM292 213h3v1h-3zM310 213h3v1h-3zM527 213h3v1h-3zM559 213h3v1h-3zM624 213h3v1h-3zM684 213h3v1h-3zM709 213h3v1h-3zM826 213h2v1h-2zM310 214h2v1h-2zM528 214h2v1h-2zM625 214h2v1h-2zM684 214h2v1h-2zM710 214h3v1h-3zM825 214h3v1h-3zM293 214h2v2h-2zM309 215h3v1h-3zM528 215h3v1h-3zM625 215h3v1h-3zM683 215h3v1h-3zM711 215h2v1h-2zM824 215h3v1h-3zM293 216h3v1h-3zM309 216h2v1h-2zM529 216h2v1h-2zM626 216h2v1h-2zM683 216h2v1h-2zM711 216h3v1h-3zM823 216h3v1h-3zM308 217h3v1h-3zM529 217h3v1h-3zM559 214h2v4h-2zM626 217h3v1h-3zM682 217h3v1h-3zM712 217h3v1h-3zM823 217h2v1h-2zM294 217h2v2h-2zM308 218h2v1h-2zM530 218h2v1h-2zM558 218h3v1h-3zM627 218h3v1h-3zM682 218h2v1h-2zM713 218h3v1h-3zM822 218h3v1h-3zM294 219h3v1h-3zM307 219h3v1h-3zM530 219h3v1h-3zM628 219h2v1h-2zM681 219h3v1h-3zM714 219h2v1h-2zM821 219h3v1h-3zM295 220h2v1h-2zM307 220h2v1h-2zM531 220h2v1h-2zM628 220h3v1h-3zM681 220h2v1h-2zM714 220h3v1h-3zM820 220h3v1h-3zM295 221h3v1h-3zM306 221h3v1h-3zM531 221h3v1h-3zM629 221h2v1h-2zM680 221h3v1h-3zM715 221h3v1h-3zM819 221h3v1h-3zM306 222h2v1h-2zM558 219h2v4h-2zM629 222h3v1h-3zM680 222h2v1h-2zM716 222h2v1h-2zM818 222h3v1h-3zM296 222h2v2h-2zM305 223h3v1h-3zM532 222h2v2h-2zM557 223h3v1h-3zM630 223h2v1h-2zM679 223h3v1h-3zM716 223h3v1h-3zM816 223h4v1h-4zM296 224h3v1h-3zM305 224h2v1h-2zM532 224h3v1h-3zM630 224h3v1h-3zM679 224h2v1h-2zM717 224h3v1h-3zM815 224h4v1h-4zM304 225h3v1h-3zM533 225h2v1h-2zM631 225h3v1h-3zM678 225h3v1h-3zM718 225h2v1h-2zM814 225h3v1h-3zM297 225h2v2h-2zM304 226h2v1h-2zM533 226h3v1h-3zM632 226h2v1h-2zM678 226h2v1h-2zM718 226h3v1h-3zM813 226h3v1h-3zM297 227h3v1h-3zM303 227h3v1h-3zM534 227h2v1h-2zM632 227h3v1h-3zM677 227h3v1h-3zM719 227h3v1h-3zM812 227h3v1h-3zM303 228h2v1h-2zM534 228h3v1h-3zM557 224h2v5h-2zM633 228h2v1h-2zM677 228h2v1h-2zM720 228h3v1h-3zM811 228h3v1h-3zM298 228h2v2h-2zM302 229h3v1h-3zM535 229h2v1h-2zM556 229h3v1h-3zM633 229h3v1h-3zM676 229h3v1h-3zM721 229h2v1h-2zM810 229h3v1h-3zM298 230h3v1h-3zM302 230h2v1h-2zM535 230h3v1h-3zM634 230h2v1h-2zM676 230h2v1h-2zM721 230h3v1h-3zM809 230h3v1h-3zM299 231h5v1h-5zM634 231h3v1h-3zM675 231h3v1h-3zM722 231h3v1h-3zM808 231h3v1h-3zM536 231h2v2h-2zM635 232h2v1h-2zM675 232h2v1h-2zM723 232h2v1h-2zM807 232h3v1h-3zM299 232h4v2h-4zM536 233h3v1h-3zM556 230h2v4h-2zM635 233h3v1h-3zM674 233h3v1h-3zM723 233h3v1h-3zM806 233h3v1h-3zM537 234h2v1h-2zM555 234h3v1h-3zM636 234h3v1h-3zM674 234h2v1h-2zM724 234h3v1h-3zM804 234h4v1h-4zM300 234h2v2h-2zM537 235h3v1h-3zM637 235h2v1h-2zM673 235h3v1h-3zM725 235h2v1h-2zM803 235h4v1h-4zM538 236h2v1h-2zM637 236h3v1h-3zM673 236h2v1h-2zM725 236h3v1h-3zM802 236h3v1h-3zM538 237h3v1h-3zM638 237h2v1h-2zM672 237h3v1h-3zM726 237h3v1h-3zM801 237h3v1h-3zM539 238h2v1h-2zM555 235h2v4h-2zM638 238h3v1h-3zM672 238h2v1h-2zM727 238h3v1h-3zM800 238h3v1h-3zM539 239h3v1h-3zM554 239h3v1h-3zM639 239h2v1h-2zM671 239h3v1h-3zM728 239h2v1h-2zM797 239h5v1h-5zM540 240h2v1h-2zM639 240h3v1h-3zM671 240h2v1h-2zM728 240h3v1h-3zM791 240h10v1h-10zM540 241h3v1h-3zM640 241h4v1h-4zM670 241h3v1h-3zM729 241h3v1h-3zM785 241h13v1h-13zM641 242h4v1h-4zM670 242h2v1h-2zM730 242h2v1h-2zM779 242h13v1h-13zM541 242h2v2h-2zM554 240h2v4h-2zM643 243h4v1h-4zM669 243h3v1h-3zM730 243h3v1h-3zM776 243h10v1h-10zM541 244h3v1h-3zM553 244h3v1h-3zM644 244h4v1h-4zM669 244h2v1h-2zM731 244h3v1h-3zM775 244h5v1h-5zM542 245h2v1h-2zM646 245h4v1h-4zM668 245h3v1h-3zM732 245h3v1h-3zM775 245h2v1h-2zM542 246h3v1h-3zM647 246h4v1h-4zM668 246h2v1h-2zM733 246h2v1h-2zM774 246h3v1h-3zM543 247h2v1h-2zM649 247h4v1h-4zM667 247h3v1h-3zM733 247h3v1h-3zM773 247h3v1h-3zM543 248h3v1h-3zM553 245h2v4h-2zM650 248h5v1h-5zM667 248h2v1h-2zM734 248h3v1h-3zM772 248h3v1h-3zM544 249h2v1h-2zM552 249h3v1h-3zM652 249h4v1h-4zM666 249h3v1h-3zM735 249h3v1h-3zM772 249h2v1h-2zM544 250h3v1h-3zM654 250h4v1h-4zM666 250h2v1h-2zM736 250h2v1h-2zM771 250h3v1h-3zM655 251h4v1h-4zM665 251h3v1h-3zM736 251h3v1h-3zM770 251h3v1h-3zM545 251h2v2h-2zM657 252h4v1h-4zM665 252h2v1h-2zM737 252h3v1h-3zM769 252h3v1h-3zM545 253h3v1h-3zM658 253h4v1h-4zM664 253h3v1h-3zM738 253h3v1h-3zM769 253h2v1h-2zM546 254h2v1h-2zM552 250h2v5h-2zM660 254h6v1h-6zM739 254h2v1h-2zM768 254h3v1h-3zM546 255h3v1h-3zM551 255h3v1h-3zM661 255h5v1h-5zM739 255h3v1h-3zM767 255h3v1h-3zM547 256h2v1h-2zM663 256h2v1h-2zM740 256h3v1h-3zM766 256h3v1h-3zM547 257h3v1h-3zM741 257h3v1h-3zM766 257h2v1h-2zM548 258h2v1h-2zM551 256h2v3h-2zM742 258h2v1h-2zM765 258h3v1h-3zM548 259h5v1h-5zM742 259h3v1h-3zM764 259h3v1h-3zM549 260h4v1h-4zM743 260h3v1h-3zM764 260h2v1h-2zM549 261h3v1h-3zM744 261h3v1h-3zM763 261h3v1h-3zM745 262h3v1h-3zM762 262h3v1h-3zM550 262h2v2h-2zM746 263h2v1h-2zM761 263h3v1h-3zM746 264h3v1h-3zM761 264h2v1h-2zM747 265h3v1h-3zM760 265h3v1h-3zM748 266h3v1h-3zM759 266h3v1h-3zM749 267h2v1h-2zM758 267h3v1h-3zM749 268h3v1h-3zM758 268h2v1h-2zM750 269h3v1h-3zM757 269h3v1h-3zM751 270h3v1h-3zM756 270h3v1h-3zM752 271h2v1h-2zM755 271h3v1h-3zM752 272h5v1h-5zM753 273h4v1h-4zM754 274h2v1h-2z" fill="#00ffff"/>
<path d="M188 243h12v1h-12zM200 244h14v1h-14zM214 245h4v1h-4zM218 246h5v1h-5zM223 247h4v1h-4zM227 248h4v1h-4zM231 249h3v1h-3zM234 250h2v1h-2zM236 251h2v1h-2zM238 252h2v1h-2zM346 252h2v1h-2zM240 253h1v1h-1zM344 253h2v1h-2zM348 253h1v1h-1zM241 254h2v1h-2zM342 254h2v1h-2zM349 254h1v1h-1zM243 255h2v1h-2zM278 255h2v1h-2zM340 255h2v1h-2zM350 255h1v1h-1zM245 256h2v1h-2zM275 256h3v1h-3zM280 256h1v1h-1zM338 256h2v1h-2zM351 256h1v1h-1zM247 257h2v1h-2zM271 257h4v1h-4zM281 257h2v1h-2zM336 257h2v1h-2zM352 257h1v1h-1zM249 258h1v1h-1zM268 258h3v1h-3zM283 258h1v1h-1zM334 258h2v1h-2zM353 258h1v1h-1zM250 259h2v1h-2zM265 259h3v1h-3zM284 259h1v1h-1zM332 259h2v1h-2zM354 259h1v1h-1zM252 260h2v1h-2zM261 260h4v1h-4zM285 260h1v1h-1zM330 260h2v1h-2zM355 260h1v1h-1zM254 261h2v1h-2zM258 261h3v1h-3zM286 261h1v1h-1zM328 261h2v1h-2zM356 261h1v1h-1zM256 262h2v1h-2zM287 262h2v1h-2zM326 262h2v1h-2zM357 262h1v1h-1zM289 263h1v1h-1zM323 263h3v1h-3zM290 264h1v1h-1zM321 264h2v1h-2zM358 263h1v2h-1zM291 265h1v1h-1zM319 265h2v1h-2zM359 265h1v1h-1zM292 266h2v1h-2zM316 266h3v1h-3zM360 266h1v1h-1zM294 267h1v1h-1zM314 267h2v1h-2zM361 267h1v1h-1zM295 268h1v1h-1zM312 268h2v1h-2zM362 268h1v1h-1zM296 269h1v1h-1zM310 269h2v1h-2zM363 269h1v1h-1zM297 270h1v1h-1zM307 270h3v1h-3zM364 270h1v1h-1zM455 270h7v1h-7zM298 271h2v1h-2zM305 271h2v1h-2zM365 271h1v1h-1zM443 271h12v1h-12zM462 271h3v1h-3zM300 272h1v1h-1zM303 272h2v1h-2zM366 272h1v1h-1zM436 272h7v1h-7zM465 272h3v1h-3zM596 272h1v1h-1zM301 273h2v1h-2zM367 273h1v1h-1zM434 273h2v1h-2zM468 273h3v1h-3zM594 273h2v1h-2zM597 273h1v1h-1zM368 274h1v1h-1zM431 274h3v1h-3zM471 274h2v1h-2zM593 274h1v1h-1zM598 274h2v1h-2zM369 275h1v1h-1zM429 275h2v1h-2zM473 275h3v1h-3zM591 275h2v1h-2zM600 275h1v1h-1zM370 276h2v1h-2zM427 276h2v1h-2zM476 276h3v1h-3zM590 276h1v1h-1zM601 276h1v1h-1zM372 277h1v1h-1zM424 277h3v1h-3zM479 277h3v1h-3zM589 277h1v1h-1zM602 277h1v1h-1zM373 278h2v1h-2zM422 278h2v1h-2zM482 278h4v1h-4zM587 278h2v1h-2zM603 278h1v1h-1zM375 279h1v1h-1zM419 279h3v1h-3zM486 279h6v1h-6zM586 279h1v1h-1zM604 279h2v1h-2zM376 280h1v1h-1zM417 280h2v1h-2zM492 280h5v1h-5zM584 280h2v1h-2zM606 280h1v1h-1zM377 281h2v1h-2zM414 281h3v1h-3zM497 281h6v1h-6zM583 281h1v1h-1zM607 281h1v1h-1zM379 282h1v1h-1zM412 282h2v1h-2zM503 282h3v1h-3zM581 282h2v1h-2zM608 282h1v1h-1zM380 283h2v1h-2zM410 283h2v1h-2zM506 283h2v1h-2zM580 283h1v1h-1zM609 283h1v1h-1zM867 283h1v1h-1zM382 284h1v1h-1zM407 284h3v1h-3zM508 284h2v1h-2zM579 284h1v1h-1zM610 284h2v1h-2zM865 284h2v1h-2zM383 285h2v1h-2zM405 285h2v1h-2zM510 285h1v1h-1zM577 285h2v1h-2zM612 285h1v1h-1zM862 285h3v1h-3zM385 286h1v1h-1zM403 286h2v1h-2zM511 286h2v1h-2zM576 286h1v1h-1zM613 286h1v1h-1zM860 286h2v1h-2zM386 287h1v1h-1zM401 287h2v1h-2zM513 287h2v1h-2zM574 287h2v1h-2zM614 287h1v1h-1zM857 287h3v1h-3zM387 288h2v1h-2zM398 288h3v1h-3zM515 288h1v1h-1zM573 288h1v1h-1zM615 288h1v1h-1zM854 288h3v1h-3zM389 289h1v1h-1zM396 289h2v1h-2zM516 289h2v1h-2zM572 289h1v1h-1zM616 289h2v1h-2zM852 289h2v1h-2zM390 290h2v1h-2zM394 290h2v1h-2zM518 290h1v1h-1zM571 290h1v1h-1zM618 290h1v1h-1zM708 290h2v1h-2zM849 290h3v1h-3zM392 291h2v1h-2zM519 291h2v1h-2zM570 291h1v1h-1zM619 291h1v1h-1zM704 291h4v1h-4zM710 291h2v1h-2zM847 291h2v1h-2zM521 292h2v1h-2zM569 292h1v1h-1zM620 292h2v1h-2zM700 292h4v1h-4zM712 292h1v1h-1zM845 292h2v1h-2zM523 293h1v1h-1zM568 293h1v1h-1zM622 293h1v1h-1zM697 293h3v1h-3zM713 293h2v1h-2zM843 293h2v1h-2zM524 294h2v1h-2zM567 294h1v1h-1zM623 294h1v1h-1zM693 294h4v1h-4zM715 294h1v1h-1zM841 294h2v1h-2zM526 295h2v1h-2zM566 295h1v1h-1zM624 295h2v1h-2zM689 295h4v1h-4zM716 295h2v1h-2zM795 295h7v1h-7zM839 295h2v1h-2zM528 296h1v1h-1zM565 296h1v1h-1zM626 296h1v1h-1zM687 296h2v1h-2zM718 296h1v1h-1zM783 296h12v1h-12zM802 296h3v1h-3zM837 296h2v1h-2zM529 297h2v1h-2zM564 297h1v1h-1zM627 297h1v1h-1zM685 297h2v1h-2zM719 297h2v1h-2zM777 297h6v1h-6zM805 297h3v1h-3zM835 297h2v1h-2zM531 298h1v1h-1zM563 298h1v1h-1zM628 298h2v1h-2zM684 298h1v1h-1zM721 298h2v1h-2zM775 298h2v1h-2zM808 298h3v1h-3zM833 298h2v1h-2zM532 299h2v1h-2zM630 299h1v1h-1zM682 299h2v1h-2zM723 299h1v1h-1zM773 299h2v1h-2zM811 299h2v1h-2zM831 299h2v1h-2zM534 300h1v1h-1zM562 299h1v2h-1zM631 300h2v1h-2zM681 300h1v1h-1zM724 300h2v1h-2zM771 300h2v1h-2zM813 300h3v1h-3zM829 300h2v1h-2zM535 301h2v1h-2zM561 301h1v1h-1zM633 301h1v1h-1zM679 301h2v1h-2zM726 301h1v1h-1zM769 301h2v1h-2zM816 301h3v1h-3zM827 301h2v1h-2zM537 302h1v1h-1zM560 302h1v1h-1zM634 302h1v1h-1zM678 302h1v1h-1zM727 302h2v1h-2zM767 302h2v1h-2zM819 302h3v1h-3zM825 302h2v1h-2zM538 303h2v1h-2zM559 303h1v1h-1zM635 303h2v1h-2zM676 303h2v1h-2zM729 303h1v1h-1zM765 303h2v1h-2zM822 303h3v1h-3zM540 304h2v1h-2zM558 304h1v1h-1zM637 304h1v1h-1zM674 304h2v1h-2zM730 304h2v1h-2zM763 304h2v1h-2zM542 305h1v1h-1zM557 305h1v1h-1zM638 305h1v1h-1zM673 305h1v1h-1zM732 305h4v1h-4zM761 305h2v1h-2zM543 306h2v1h-2zM556 306h1v1h-1zM639 306h2v1h-2zM671 306h2v1h-2zM736 306h8v1h-8zM759 306h2v1h-2zM545 307h1v1h-1zM555 307h1v1h-1zM641 307h3v1h-3zM670 307h1v1h-1zM744 307h8v1h-8zM757 307h2v1h-2zM546 308h2v1h-2zM554 308h1v1h-1zM644 308h6v1h-6zM668 308h2v1h-2zM752 308h5v1h-5zM548 309h1v1h-1zM553 309h1v1h-1zM650 309h6v1h-6zM667 309h1v1h-1zM549 310h2v1h-2zM552 310h1v1h-1zM656 310h6v1h-6zM665 310h2v1h-2zM551 311h1v1h-1zM662 311h3v1h-3z" fill="#0000ff"/>
<path d="M730 242h28v1h-28zM727 243h37v1h-37zM681 244h9v1h-9zM723 244h8v1h-8zM757 244h12v1h-12zM669 245h25v1h-25zM720 245h8v1h-8zM763 245h12v1h-12zM788 245h13v1h-13zM550 246h2v1h-2zM663 246h19v1h-19zM689 246h10v1h-10zM717 246h7v1h-7zM768 246h35v1h-35zM548 247h5v1h-5zM662 247h8v1h-8zM693 247h10v1h-10zM713 247h8v1h-8zM774 247h15v1h-15zM800 247h4v1h-4zM546 248h7v1h-7zM661 248h3v1h-3zM698 248h9v1h-9zM710 248h8v1h-8zM802 248h4v1h-4zM544 249h5v1h-5zM551 249h3v1h-3zM660 249h3v1h-3zM702 249h12v1h-12zM803 249h4v1h-4zM543 250h4v1h-4zM552 250h3v1h-3zM659 250h3v1h-3zM706 250h5v1h-5zM805 250h3v1h-3zM541 251h4v1h-4zM553 251h2v1h-2zM658 251h3v1h-3zM806 251h4v1h-4zM539 252h5v1h-5zM553 252h3v1h-3zM657 252h3v1h-3zM807 252h4v1h-4zM537 253h5v1h-5zM554 253h3v1h-3zM656 253h3v1h-3zM809 253h4v1h-4zM535 254h5v1h-5zM555 254h2v1h-2zM655 254h3v1h-3zM810 254h4v1h-4zM534 255h4v1h-4zM555 255h3v1h-3zM654 255h3v1h-3zM812 255h4v1h-4zM532 256h4v1h-4zM556 256h3v1h-3zM653 256h3v1h-3zM813 256h4v1h-4zM530 257h5v1h-5zM557 257h3v1h-3zM652 257h3v1h-3zM815 257h3v1h-3zM528 258h5v1h-5zM558 258h2v1h-2zM651 258h3v1h-3zM816 258h4v1h-4zM527 259h4v1h-4zM558 259h3v1h-3zM651 259h2v1h-2zM817 259h4v1h-4zM526 260h3v1h-3zM559 260h3v1h-3zM650 260h3v1h-3zM819 260h4v1h-4zM525 261h3v1h-3zM560 261h2v1h-2zM649 261h3v1h-3zM820 261h6v1h-6zM524 262h3v1h-3zM560 262h3v1h-3zM648 262h3v1h-3zM822 262h10v1h-10zM523 263h3v1h-3zM561 263h3v1h-3zM647 263h3v1h-3zM825 263h12v1h-12zM522 264h3v1h-3zM562 264h2v1h-2zM646 264h3v1h-3zM831 264h12v1h-12zM521 265h3v1h-3zM562 265h3v1h-3zM645 265h3v1h-3zM836 265h12v1h-12zM520 266h3v1h-3zM563 266h3v1h-3zM644 266h3v1h-3zM842 266h12v1h-12zM519 267h3v1h-3zM564 267h2v1h-2zM643 267h3v1h-3zM847 267h13v1h-13zM518 268h3v1h-3zM564 268h3v1h-3zM642 268h3v1h-3zM853 268h13v1h-13zM517 269h3v1h-3zM565 269h3v1h-3zM641 269h3v1h-3zM859 269h9v1h-9zM516 270h3v1h-3zM566 270h2v1h-2zM640 270h3v1h-3zM865 270h3v1h-3zM434 271h4v1h-4zM515 271h3v1h-3zM566 271h3v1h-3zM639 271h3v1h-3zM428 272h12v1h-12zM515 272h2v1h-2zM567 272h3v1h-3zM637 272h4v1h-4zM423 273h12v1h-12zM437 273h5v1h-5zM514 273h3v1h-3zM568 273h3v1h-3zM636 273h4v1h-4zM417 274h12v1h-12zM439 274h4v1h-4zM513 274h3v1h-3zM569 274h2v1h-2zM635 274h3v1h-3zM414 275h10v1h-10zM441 275h4v1h-4zM512 275h3v1h-3zM569 275h3v1h-3zM634 275h3v1h-3zM244 276h13v1h-13zM412 276h6v1h-6zM442 276h5v1h-5zM511 276h3v1h-3zM570 276h3v1h-3zM633 276h3v1h-3zM230 277h28v1h-28zM411 277h4v1h-4zM444 277h4v1h-4zM510 277h3v1h-3zM571 277h2v1h-2zM631 277h4v1h-4zM226 278h19v1h-19zM256 278h3v1h-3zM409 278h4v1h-4zM446 278h4v1h-4zM509 278h3v1h-3zM571 278h5v1h-5zM630 278h4v1h-4zM188 279h4v1h-4zM222 279h9v1h-9zM257 279h4v1h-4zM408 279h4v1h-4zM447 279h4v1h-4zM508 279h3v1h-3zM572 279h8v1h-8zM629 279h3v1h-3zM188 280h12v1h-12zM217 280h10v1h-10zM258 280h4v1h-4zM407 280h3v1h-3zM449 280h4v1h-4zM507 280h3v1h-3zM575 280h10v1h-10zM628 280h3v1h-3zM191 281h17v1h-17zM213 281h10v1h-10zM260 281h3v1h-3zM405 281h4v1h-4zM450 281h5v1h-5zM506 281h3v1h-3zM579 281h11v1h-11zM626 281h4v1h-4zM199 282h19v1h-19zM261 282h3v1h-3zM404 282h4v1h-4zM452 282h4v1h-4zM479 282h16v1h-16zM505 282h3v1h-3zM584 282h10v1h-10zM625 282h4v1h-4zM207 283h7v1h-7zM262 283h3v1h-3zM402 283h4v1h-4zM454 283h4v1h-4zM471 283h36v1h-36zM589 283h10v1h-10zM624 283h3v1h-3zM263 284h3v1h-3zM401 284h4v1h-4zM455 284h5v1h-5zM463 284h17v1h-17zM494 284h12v1h-12zM593 284h10v1h-10zM623 284h3v1h-3zM264 285h3v1h-3zM399 285h4v1h-4zM457 285h15v1h-15zM598 285h10v1h-10zM622 285h3v1h-3zM265 286h4v1h-4zM398 286h4v1h-4zM459 286h5v1h-5zM602 286h11v1h-11zM620 286h4v1h-4zM266 287h4v1h-4zM397 287h3v1h-3zM607 287h10v1h-10zM619 287h4v1h-4zM268 288h3v1h-3zM395 288h4v1h-4zM612 288h9v1h-9zM269 289h3v1h-3zM394 289h4v1h-4zM616 289h4v1h-4zM270 290h3v1h-3zM392 290h4v1h-4zM271 291h3v1h-3zM391 291h4v1h-4zM272 292h3v1h-3zM389 292h4v1h-4zM273 293h4v1h-4zM297 293h6v1h-6zM387 293h5v1h-5zM274 294h4v1h-4zM290 294h16v1h-16zM386 294h4v1h-4zM276 295h3v1h-3zM282 295h16v1h-16zM302 295h8v1h-8zM384 295h4v1h-4zM277 296h14v1h-14zM305 296h8v1h-8zM382 296h5v1h-5zM278 297h5v1h-5zM309 297h7v1h-7zM343 297h6v1h-6zM381 297h4v1h-4zM312 298h8v1h-8zM335 298h17v1h-17zM379 298h4v1h-4zM315 299h8v1h-8zM327 299h17v1h-17zM348 299h6v1h-6zM378 299h4v1h-4zM319 300h17v1h-17zM351 300h6v1h-6zM376 300h4v1h-4zM322 301h6v1h-6zM353 301h7v1h-7zM374 301h5v1h-5zM356 302h7v1h-7zM373 302h4v1h-4zM359 303h6v1h-6zM371 303h4v1h-4zM362 304h6v1h-6zM369 304h5v1h-5zM364 305h8v1h-8zM367 306h3v1h-3z" fill="#ff0000"/>
<path d="M766 191h37v1h-37zM698 192h111v1h-111zM253 193h5v1h-5zM683 193h84v1h-84zM802 193h13v1h-13zM247 194h14v1h-14zM675 194h24v1h-24zM808 194h13v1h-13zM241 195h13v1h-13zM257 195h8v1h-8zM667 195h17v1h-17zM814 195h15v1h-15zM235 196h13v1h-13zM260 196h8v1h-8zM548 196h15v1h-15zM658 196h18v1h-18zM820 196h20v1h-20zM229 197h13v1h-13zM264 197h7v1h-7zM412 197h29v1h-29zM542 197h43v1h-43zM646 197h22v1h-22zM828 197h40v1h-40zM222 198h14v1h-14zM267 198h8v1h-8zM408 198h41v1h-41zM536 198h13v1h-13zM562 198h97v1h-97zM839 198h29v1h-29zM214 199h16v1h-16zM270 199h8v1h-8zM403 199h10v1h-10zM440 199h17v1h-17zM530 199h13v1h-13zM584 199h63v1h-63zM188 200h35v1h-35zM274 200h17v1h-17zM398 200h11v1h-11zM448 200h89v1h-89zM188 201h27v1h-27zM277 201h36v1h-36zM394 201h10v1h-10zM456 201h75v1h-75zM290 202h109v1h-109zM312 203h83v1h-83z" fill="#ff0080"/>
<rect x="357" y="462" width="1" height="12" fill="#000"/><rect x="679" y="462" width="1" height="12" fill="#000"/>
<g fill="#808080"><rect x="40" y="76" width="1" height="391"/>
<rect x="36" y="76" width="8" height="1"/>
<rect x="36" y="108" width="4" height="1"/>
<rect x="36" y="141" width="4" height="1"/>
<rect x="36" y="174" width="4" height="1"/>
<rect x="36" y="206" width="4" height="1"/>
<rect x="36" y="238" width="4" height="1"/>
<rect x="36" y="271" width="4" height="1"/>
<rect x="36" y="304" width="4" height="1"/>
<rect x="36" y="336" width="4" height="1"/>
<rect x="36" y="368" width="4" height="1"/>
<rect x="36" y="401" width="4" height="1"/>
<rect x="36" y="434" width="4" height="1"/>
<rect x="36" y="466" width="8" height="1"/>
</g>
<g fill="#808080"><rect x="77" y="76" width="1" height="391"/>
<rect x="73" y="83" width="8" height="1"/>
<rect x="73" y="118" width="4" height="1"/>
<rect x="73" y="153" width="4" height="1"/>
<rect x="73" y="187" width="4" height="1"/>
<rect x="73" y="222" width="4" height="1"/>
<rect x="73" y="257" width="4" height="1"/>
<rect x="73" y="292" width="4" height="1"/>
<rect x="73" y="327" width="4" height="1"/>
<rect x="73" y="362" width="4" height="1"/>
<rect x="73" y="396" width="4" height="1"/>
<rect x="73" y="431" width="4" height="1"/>
<rect x="73" y="466" width="8" height="1"/>
</g>
<g fill="#808080"><rect x="114" y="76" width="1" height="391"/>
<rect x="110" y="76" width="8" height="1"/>
<rect x="110" y="115" width="4" height="1"/>
<rect x="110" y="154" width="4" height="1"/>
<rect x="110" y="193" width="4" height="1"/>
<rect x="110" y="232" width="4" height="1"/>
<rect x="110" y="271" width="4" height="1"/>
<rect x="110" y="310" width="4" height="1"/>
<rect x="110" y="349" width="4" height="1"/>
<rect x="110" y="388" width="4" height="1"/>
<rect x="110" y="427" width="4" height="1"/>
<rect x="110" y="466" width="8" height="1"/>
</g>
<g fill="#808080"><rect x="151" y="76" width="1" height="391"/>
<rect x="147" y="466" width="8" height="1"/>
</g>
<g fill="#808080">
<rect x="184" y="76" width="3" height="1"/><rect x="869" y="76" width="4" height="1"/>
<rect x="184" y="115" width="3" height="1"/><rect x="869" y="115" width="4" height="1"/>
<rect x="184" y="154" width="3" height="1"/><rect x="869" y="154" width="4" height="1"/>
<rect x="184" y="193" width="3" height="1"/><rect x="869" y="193" width="4" height="1"/>
<rect x="184" y="232" width="3" height="1"/><rect x="869" y="232" width="4" height="1"/>
<rect x="184" y="271" width="3" height="1"/><rect x="869" y="271" width="4" height="1"/>
<rect x="184" y="310" width="3" height="1"/><rect x="869" y="310" width="4" height="1"/>
<rect x="184" y="349" width="3" height="1"/><rect x="869" y="349" width="4" height="1"/>
<rect x="184" y="388" width="3" height="1"/><rect x="869" y="388" width="4" height="1"/>
<rect x="184" y="427" width="3" height="1"/><rect x="869" y="427" width="4" height="1"/>
<rect x="184" y="466" width="3" height="1"/><rect x="869" y="466" width="4" height="1"/>
</g>
<g fill="#808080"><rect x="905" y="76" width="1" height="391"/>
<rect x="901" y="76" width="9" height="1"/>
<rect x="906" y="96" width="4" height="1"/>
<rect x="906" y="115" width="4" height="1"/>
<rect x="906" y="134" width="4" height="1"/>
<rect x="906" y="154" width="4" height="1"/>
<rect x="906" y="174" width="4" height="1"/>
<rect x="906" y="193" width="4" height="1"/>
<rect x="906" y="212" width="4" height="1"/>
<rect x="906" y="232" width="4" height="1"/>
<rect x="906" y="252" width="4" height="1"/>
<rect x="906" y="271" width="4" height="1"/>
<rect x="906" y="290" width="4" height="1"/>
<rect x="906" y="310" width="4" height="1"/>
<rect x="906" y="330" width="4" height="1"/>
<rect x="906" y="349" width="4" height="1"/>
<rect x="906" y="368" width="4" height="1"/>
<rect x="906" y="388" width="4" height="1"/>
<rect x="906" y="408" width="4" height="1"/>
<rect x="906" y="427" width="4" height="1"/>
<rect x="906" y="446" width="4" height="1"/>
<rect x="901" y="466" width="9" height="1"/>
</g>
<g fill="#808080"><rect x="942" y="76" width="1" height="391"/>
<rect x="938" y="76" width="9" height="1"/>
<rect x="943" y="108" width="4" height="1"/>
<rect x="943" y="141" width="4" height="1"/>
<rect x="943" y="174" width="4" height="1"/>
<rect x="943" y="206" width="4" height="1"/>
<rect x="943" y="238" width="4" height="1"/>
<rect x="943" y="271" width="4" height="1"/>
<rect x="943" y="304" width="4" height="1"/>
<rect x="943" y="336" width="4" height="1"/>
<rect x="943" y="368" width="4" height="1"/>
<rect x="943" y="401" width="4" height="1"/>
<rect x="943" y="434" width="4" height="1"/>
<rect x="938" y="466" width="9" height="1"/>
</g>
<g fill="#808080"><rect x="979" y="76" width="1" height="391"/>
<rect x="975" y="76" width="9" height="1"/>
<rect x="980" y="115" width="4" height="1"/>
<rect x="980" y="154" width="4" height="1"/>
<rect x="980" y="193" width="4" height="1"/>
<rect x="980" y="232" width="4" height="1"/>
<rect x="980" y="271" width="4" height="1"/>
<rect x="980" y="310" width="4" height="1"/>
<rect x="980" y="349" width="4" height="1"/>
<rect x="980" y="388" width="4" height="1"/>
<rect x="980" y="427" width="4" height="1"/>
<rect x="975" y="466" width="9" height="1"/>
</g>
</g>
<circle cx="357.5" cy="491.5" r="5" fill="#fff" stroke="#000" stroke-width="1.3"/>
<circle cx="679.5" cy="491.5" r="4.6" fill="#000"/><path d="M677 488.3Q675.8 491.5 677 494" stroke="#fff" stroke-width="1" fill="none"/>
<g filter="url(#sh)">
<text x="514.8" y="21" font-size="16" text-anchor="middle" fill="#000" textLength="73.5" lengthAdjust="spacingAndGlyphs">März 2012</text>
<text x="212.5" y="42" fill="#ff0080">Temp. I.</text>
<text x="307.5" y="42" fill="#ff0080">Temp. A.</text>
<text x="402.5" y="42" fill="#0000ff">Feuchte I.</text>
<text x="497.5" y="42" fill="#0000ff">Feuchte A.</text>
<text x="592.5" y="42" fill="#000000">Luftdruck</text>
<text x="687.5" y="42" fill="#0000a0">Regen</text>
<text x="782.5" y="42" fill="#00ff00">Wind</text>
<text x="212.5" y="56" fill="#808080">Richtung</text>
<text x="307.5" y="56" fill="#ffdf9f">Sonnenschein</text>
<text x="402.5" y="56" fill="#000090">ET</text>
<text x="497.5" y="56" fill="#ffdf9f">UV</text>
<text x="592.5" y="56" fill="#ff8040">Solar</text>
<text x="687.5" y="56" fill="#ff0080">Taupunkt</text>
<text x="782.5" y="56" fill="#ff0080">Windchill</text>
<text x="212.5" y="70" fill="#00ff00">Windböen</text>
<g fill="#000" text-anchor="middle" transform="translate(0 485) scale(1 1.125) translate(0 -485)">
<text x="188.5" y="485">1</text>
<text x="211.5" y="485">2</text>
<text x="233.5" y="485">3</text>
<text x="256.5" y="485">4</text>
<text x="279.5" y="485">5</text>
<text x="301.5" y="485">6</text>
<text x="324.5" y="485">7</text>
<text x="347.5" y="485">8</text>
<text x="369.5" y="485">9</text>
<text x="392.5" y="485">10</text>
<text x="415.5" y="485">11</text>
<text x="437.5" y="485">12</text>
<text x="460.5" y="485">13</text>
<text x="483.5" y="485">14</text>
<text x="505.5" y="485">15</text>
<text x="528.5" y="485">16</text>
<text x="551.5" y="485">17</text>
<text x="573.5" y="485">18</text>
<text x="596.5" y="485">19</text>
<text x="619.5" y="485">20</text>
<text x="641.5" y="485">21</text>
<text x="664.5" y="485">22</text>
<text x="687.5" y="485">23</text>
<text x="709.5" y="485">24</text>
<text x="732.5" y="485">25</text>
<text x="755.5" y="485">26</text>
<text x="777.5" y="485">27</text>
<text x="800.5" y="485">28</text>
<text x="823.5" y="485">29</text>
<text x="845.5" y="485">30</text>
<text x="868.5" y="485">31</text>
</g>
<g fill="#ff0080" text-anchor="end">
<text x="34.5" y="81">40.0</text>
<text x="34.5" y="113">35.0</text>
<text x="34.5" y="146">30.0</text>
<text x="34.5" y="179">25.0</text>
<text x="34.5" y="211">20.0</text>
<text x="34.5" y="243">15.0</text>
<text x="34.5" y="276">10.0</text>
<text x="34.5" y="309">5.0</text>
<text x="34.5" y="341">0.0</text>
<text x="34.5" y="373">-5.0</text>
<text x="34.5" y="406">-10.0</text>
<text x="34.5" y="439">-15.0</text>
<text x="34.5" y="471">-20.0</text>
</g>
<g fill="#000" text-anchor="end">
<text x="71.5" y="88">1045</text>
<text x="71.5" y="123">1040</text>
<text x="71.5" y="158">1035</text>
<text x="71.5" y="192">1030</text>
<text x="71.5" y="227">1025</text>
<text x="71.5" y="262">1020</text>
<text x="71.5" y="297">1015</text>
<text x="71.5" y="332">1010</text>
<text x="71.5" y="367">1005</text>
<text x="71.5" y="401">1000</text>
<text x="71.5" y="436">995</text>
<text x="71.5" y="471">990</text>
</g>
<g fill="#00ff00" text-anchor="end">
<text x="108.5" y="81">50.0</text>
<text x="108.5" y="120">45.0</text>
<text x="108.5" y="159">40.0</text>
<text x="108.5" y="198">35.0</text>
<text x="108.5" y="237">30.0</text>
<text x="108.5" y="276">25.0</text>
<text x="108.5" y="315">20.0</text>
<text x="108.5" y="354">15.0</text>
<text x="108.5" y="393">10.0</text>
<text x="108.5" y="432">5.0</text>
<text x="108.5" y="471">0.0</text>
</g>
<g fill="#ffdf9f" text-anchor="end">
<text x="145.5" y="471">0</text>
</g>
<g fill="#ff8040" text-anchor="end">
<text x="182" y="81">500</text>
<text x="182" y="120">450</text>
<text x="182" y="159">400</text>
<text x="182" y="198">350</text>
<text x="182" y="237">300</text>
<text x="182" y="276">250</text>
<text x="182" y="315">200</text>
<text x="182" y="354">150</text>
<text x="182" y="393">100</text>
<text x="182" y="432">50</text>
<text x="182" y="471">0</text>
</g><g fill="#0000ff">
<text x="874.5" y="81">100</text>
<text x="874.5" y="120">90</text>
<text x="874.5" y="159">80</text>
<text x="874.5" y="198">70</text>
<text x="874.5" y="237">60</text>
<text x="874.5" y="276">50</text>
<text x="874.5" y="315">40</text>
<text x="874.5" y="354">30</text>
<text x="874.5" y="393">20</text>
<text x="874.5" y="432">10</text>
<text x="874.5" y="471">0</text>
</g>
<g fill="#0000a0" text-anchor="start">
<text x="911.3" y="81">20.0</text>
<text x="911.3" y="101">19.0</text>
<text x="911.3" y="120">18.0</text>
<text x="911.3" y="139">17.0</text>
<text x="911.3" y="159">16.0</text>
<text x="911.3" y="179">15.0</text>
<text x="911.3" y="198">14.0</text>
<text x="911.3" y="217">13.0</text>
<text x="911.3" y="237">12.0</text>
<text x="911.3" y="257">11.0</text>
<text x="911.3" y="276">10.0</text>
<text x="911.3" y="295">9.0</text>
<text x="911.3" y="315">8.0</text>
<text x="911.3" y="335">7.0</text>
<text x="911.3" y="354">6.0</text>
<text x="911.3" y="373">5.0</text>
<text x="911.3" y="393">4.0</text>
<text x="911.3" y="413">3.0</text>
<text x="911.3" y="432">2.0</text>
<text x="911.3" y="451">1.0</text>
<text x="911.3" y="471">0.0</text>
</g>
<g fill="#808080" text-anchor="start">
<text x="948.5" y="81">360</text>
<text x="948.5" y="113">330</text>
<text x="948.5" y="146">300</text>
<text x="948.5" y="179">270</text>
<text x="948.5" y="211">240</text>
<text x="948.5" y="243">210</text>
<text x="948.5" y="276">180</text>
<text x="948.5" y="309">150</text>
<text x="948.5" y="341">120</text>
<text x="948.5" y="373">90</text>
<text x="948.5" y="406">60</text>
<text x="948.5" y="439">30</text>
<text x="948.5" y="471">0</text>
</g>
<g fill="#808080">
<text x="968.7" y="81">N</text>
<text x="969.5" y="179">W</text>
<text x="970" y="276">S</text>
<text x="966.5" y="373">O</text>
<text x="967.5" y="471">N</text>
</g>
<g fill="#ffdf9f" text-anchor="start">
<text x="985.5" y="81">10.0</text>
<text x="985.5" y="120">9.0</text>
<text x="985.5" y="159">8.0</text>
<text x="985.5" y="198">7.0</text>
<text x="985.5" y="237">6.0</text>
<text x="985.5" y="276">5.0</text>
<text x="985.5" y="315">4.0</text>
<text x="985.5" y="354">3.0</text>
<text x="985.5" y="393">2.0</text>
<text x="985.5" y="432">1.0</text>
<text x="985.5" y="471">0.0</text>
</g>
<text x="20" y="65" fill="#ff0080" textLength="10.5" lengthAdjust="spacingAndGlyphs">°C</text>
<text x="48.5" y="65" fill="#000">hPa</text>
<text x="80" y="65" fill="#00ff00">km/h</text>
<text x="135.5" y="65" fill="#ffdf9f">h</text>
<text x="151" y="65" fill="#ff8040">W/m²</text>
<text x="868.5" y="65" fill="#0000ff" textLength="8" lengthAdjust="spacingAndGlyphs">%</text>
<text x="905.5" y="65" fill="#0000a0">l/m²</text>
<text x="942" y="65" fill="#808080">°</text>
<text x="979.3" y="65" fill="#ffdf9f">UV-I</text>
</g>
</svg>
<div style="position:absolute;left:1px;top:499px;width:1021px;height:76px;background:#cbfaf6"></div>
<div class="s" style="left:87px;background:#fff"></div><div class="s" style="left:88px;background:#a19a8d"></div>
<div class="s" style="left:204px;background:#fff"></div><div class="s" style="left:205px;background:#a19a8d"></div>
<div class="s" style="left:322px;background:#fff"></div><div class="s" style="left:323px;background:#a19a8d"></div>
<div class="s" style="left:440px;background:#fff"></div><div class="s" style="left:441px;background:#a19a8d"></div>
<div class="s" style="left:558px;background:#fff"></div><div class="s" style="left:559px;background:#a19a8d"></div>
<div class="s" style="left:676px;background:#fff"></div><div class="s" style="left:677px;background:#a19a8d"></div>
<div class="s" style="left:794px;background:#fff"></div><div class="s" style="left:795px;background:#a19a8d"></div>
<div class="s" style="left:912px;background:#fff"></div><div class="s" style="left:913px;background:#a19a8d"></div>
<div class="s" style="left:1022px;background:#fff"></div><div class="s" style="left:1023px;background:#a19a8d"></div>
<div style="position:absolute;left:0;top:0;width:1024px;height:575px;filter:url(#sh)">
<div class="c" style="top:507px;left:9px;font-weight:bold;letter-spacing:0.3px;">Sensor</div>
<div class="c" style="top:523px;left:9px;font-weight:bold;letter-spacing:0.3px;">MinWert</div>
<div class="c" style="top:539px;left:9px;font-weight:bold;letter-spacing:0.3px;">MaxWert</div>
<div class="c" style="top:555px;left:9px;font-weight:bold;letter-spacing:0.3px;">Durchschnitt</div>
<div class="c" style="top:571px;left:9px;font-weight:bold;letter-spacing:0.3px;">31.03.</div>
<div class="c" style="top:507px;left:95px;font-weight:bold;letter-spacing:0.65px;">Temp. A.</div>
<div class="c" style="top:507px;right:825.7px;text-align:right;font-weight:bold;letter-spacing:0.3px;">°C</div>
<div class="c" style="top:523px;left:95px;">09.03.&nbsp; 07:05</div>
<div class="c" style="top:523px;right:826px;text-align:right;">-1.3</div>
<div class="c" style="top:539px;left:95px;">16.03.&nbsp; 16:15</div>
<div class="c" style="top:539px;right:826px;text-align:right;">23.4</div>
<div class="c" style="top:555px;right:826px;text-align:right;">9.78</div>
<div class="c" style="top:571px;right:825.7px;text-align:right;font-weight:bold;letter-spacing:0.3px;">10.3</div>
<div class="c" style="top:507px;left:212px;font-weight:bold;letter-spacing:0.6px;">Feuchte A.</div>
<div class="c" style="top:507px;right:707.7px;text-align:right;font-weight:bold;letter-spacing:0.3px;">%</div>
<div class="c" style="top:523px;left:212px;">28.03.&nbsp; 16:35</div>
<div class="c" style="top:523px;right:708px;text-align:right;">28</div>
<div class="c" style="top:539px;left:212px;">01.03.&nbsp; 06:50</div>
<div class="c" style="top:539px;right:708px;text-align:right;">96</div>
<div class="c" style="top:555px;right:708px;text-align:right;">70</div>
<div class="c" style="top:571px;left:212px;">&nbsp;6.48 g/m³</div>
<div class="c" style="top:571px;right:707.7px;text-align:right;font-weight:bold;letter-spacing:0.3px;">68</div>
<div class="c" style="top:507px;left:330px;font-weight:bold;letter-spacing:0.3px;">Luftdruck</div>
<div class="c" style="top:507px;right:589.7px;text-align:right;font-weight:bold;letter-spacing:0.3px;">hPa</div>
<div class="c" style="top:523px;left:330px;">31.03.&nbsp; 15:55</div>
<div class="c" style="top:523px;right:590px;text-align:right;">1010.1</div>
<div class="c" style="top:539px;left:330px;">09.03.&nbsp; 10:40</div>
<div class="c" style="top:539px;right:590px;text-align:right;">1038.8</div>
<div class="c" style="top:555px;right:590px;text-align:right;">1026.2</div>
<div class="c" style="top:571px;right:589.7px;text-align:right;font-weight:bold;letter-spacing:0.3px;">1013.0</div>
<div class="c" style="top:507px;left:448px;font-weight:bold;letter-spacing:0.4px;">Wind</div>
<div class="c" style="top:507px;right:470.8px;text-align:right;font-weight:bold;letter-spacing:1.2px;">km/h</div>
<div class="c" style="top:523px;left:448px;">31.03.&nbsp; 00:00</div>
<div class="c" style="top:523px;right:472px;text-align:right;">0.0</div>
<div class="c" style="top:539px;left:448px;width:60px;overflow:hidden;">31.03.&nbsp; 19:10</div>
<div class="c" style="top:539px;right:471.5px;text-align:right;letter-spacing:0.5px;">NW 11.3</div>
<div class="c" style="top:555px;right:472px;text-align:right;">1.3</div>
<div class="c" style="top:571px;left:448px;">&nbsp;1 Bft NW</div>
<div class="c" style="top:571px;right:471.7px;text-align:right;font-weight:bold;letter-spacing:0.3px;">3.1</div>
<div class="c" style="top:507px;left:566px;font-weight:bold;letter-spacing:0.4px;">Richtung</div>
<div class="c" style="top:523px;left:566px;">11.03.&nbsp; 20:10</div>
<div class="c" style="top:523px;right:354px;text-align:right;">N</div>
<div class="c" style="top:539px;left:566px;">31.03.&nbsp; 03:05</div>
<div class="c" style="top:539px;right:354px;text-align:right;">N</div>
<div class="c" style="top:555px;right:354px;text-align:right;">NW</div>
<div class="c" style="top:571px;left:566px;">&nbsp;315 °</div>
<div class="c" style="top:571px;right:353.7px;text-align:right;font-weight:bold;letter-spacing:0.3px;">NW</div>
<div class="c" style="top:507px;left:684px;font-weight:bold;letter-spacing:0.3px;">Windböen</div>
<div class="c" style="top:507px;right:234.8px;text-align:right;font-weight:bold;letter-spacing:1.2px;">km/h</div>
<div class="c" style="top:523px;left:684px;">31.03.&nbsp; 00:00</div>
<div class="c" style="top:523px;right:236px;text-align:right;">0.0</div>
<div class="c" style="top:539px;left:684px;width:60px;overflow:hidden;">31.03.&nbsp; 17:00</div>
<div class="c" style="top:539px;right:235.5px;text-align:right;letter-spacing:0.5px;">NW 33.8</div>
<div class="c" style="top:555px;right:236px;text-align:right;">5.2</div>
<div class="c" style="top:571px;left:684px;">&nbsp;3 Bft NW</div>
<div class="c" style="top:571px;right:235.7px;text-align:right;font-weight:bold;letter-spacing:0.3px;">11.5</div>
<div class="c" style="top:507px;left:802px;font-weight:bold;letter-spacing:0.8px;">Regen</div>
<div class="c" style="top:507px;right:117.7px;text-align:right;font-weight:bold;letter-spacing:0.3px;">l/m²</div>
<div class="c" style="top:523px;left:802px;">Regentage: 7</div>
<div class="c" style="top:539px;left:802px;">08.03.&nbsp; 00:00</div>
<div class="c" style="top:539px;right:118px;text-align:right;">6.6</div>
<div class="c" style="top:555px;left:802px;">Gesamt:</div>
<div class="c" style="top:555px;right:118px;text-align:right;">15.4</div>
<div class="c" style="top:571px;left:802px;">&nbsp;15.4 l/m²</div>
<div class="c" style="top:571px;right:117.7px;text-align:right;font-weight:bold;letter-spacing:0.3px;">0.0</div>
<div class="c" style="top:507px;left:920px;font-weight:bold;letter-spacing:0.75px;">PMV 0:5</div>
<div class="c" style="top:523px;left:920px;">WC 10.1 °C</div>
<div class="c" style="top:539px;left:920px;">TP 4.5 °C</div>
</div>
</div>
</body></html>
